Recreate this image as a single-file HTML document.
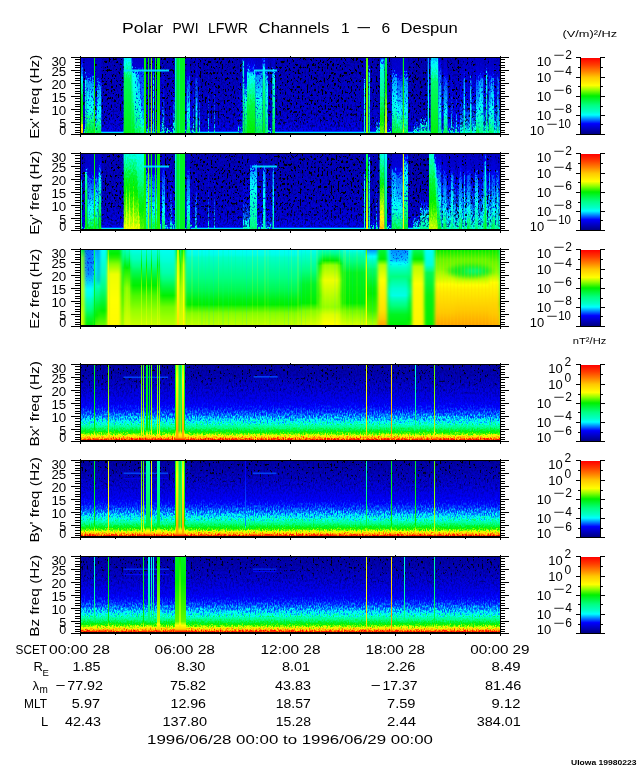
<!DOCTYPE html>
<html><head><meta charset="utf-8"><title>Polar PWI LFWR Channels 1 - 6 Despun</title>
<style>html,body{margin:0;padding:0;background:#fff}svg{display:block}text{font-family:'Liberation Sans', 'DejaVu Sans', sans-serif;fill:#000}</style></head>
<body>
<svg width="640" height="768" viewBox="0 0 640 768">
<rect width="640" height="768" fill="#fff"/>
<defs>

<filter id="nz" x="0" y="0" width="1" height="1" color-interpolation-filters="sRGB">
<feTurbulence type="fractalNoise" baseFrequency="0.83 0.47" numOctaves="2" seed="5" result="t"/>
<feColorMatrix in="t" type="matrix" values="0 0 0 0 0.5  0 2.2 0 0 -0.6  0 0 0 0 0  0 0 0 0 1" result="m"/>
<feDisplacementMap in="SourceGraphic" in2="m" scale="3.2" xChannelSelector="R" yChannelSelector="G"/>
</filter>
<filter id="nz2" x="0" y="0" width="1" height="1" color-interpolation-filters="sRGB">
<feTurbulence type="fractalNoise" baseFrequency="0.83 0.37" numOctaves="2" seed="11" result="t"/>
<feColorMatrix in="t" type="matrix" values="0 0 0 0 0.5  0 2.2 0 0 -0.6  0 0 0 0 0  0 0 0 0 1" result="m"/>
<feDisplacementMap in="SourceGraphic" in2="m" scale="11" xChannelSelector="R" yChannelSelector="G"/>
</filter>
<filter id="sp" x="0" y="0" width="1" height="1" color-interpolation-filters="sRGB">
<feTurbulence type="fractalNoise" baseFrequency="0.55 0.36" numOctaves="1" seed="2" result="t"/>
<feColorMatrix in="t" type="matrix" values="0 0 0 0 0  0 0 0 0 0  0 0 0 0 0  0 0 0 30 -18.3" result="a"/>
<feComposite in="SourceGraphic" in2="a" operator="in"/>
</filter>
<filter id="bl" x="0" y="0" width="1" height="1" color-interpolation-filters="sRGB"><feGaussianBlur stdDeviation="1.8 0"/></filter>
<filter id="sp2" x="0" y="0" width="1" height="1" color-interpolation-filters="sRGB">
<feTurbulence type="fractalNoise" baseFrequency="0.55 0.36" numOctaves="1" seed="9" result="t"/>
<feColorMatrix in="t" type="matrix" values="0 0 0 0 0  0 0 0 0 0  0 0 0 0 0  0 0 0 30 -19.4" result="a"/>
<feComposite in="SourceGraphic" in2="a" operator="in"/>
</filter>
<filter id="dm" x="0" y="0" width="1" height="1" color-interpolation-filters="sRGB">
<feTurbulence type="fractalNoise" baseFrequency="0.61 0.39" numOctaves="2" seed="41" result="t"/>
<feColorMatrix in="t" type="matrix" values="0 0 0 0 0  0 0 0 0 0  0 0 0 0 0  5 0 0 0 -2.3" result="a"/>
<feComposite in="SourceGraphic" in2="a" operator="in"/>
</filter>
<filter id="mt" x="0" y="0" width="1" height="1" color-interpolation-filters="sRGB">
<feTurbulence type="fractalNoise" baseFrequency="0.77 0.45" numOctaves="2" seed="23" result="t"/>
<feColorMatrix in="t" type="matrix" values="0 0 0 0 0  0 0 0 0 0  0 0 0 0 0  0 0 6 0 -3.3" result="a"/>
<feComposite in="SourceGraphic" in2="a" operator="in"/>
</filter>
<linearGradient id="mtg" x1="0" y1="0" x2="0" y2="1"><stop offset="0" stop-color="#0000d8" stop-opacity="0.9"/><stop offset="0.7" stop-color="#0010e0" stop-opacity="0.8"/><stop offset="0.9" stop-color="#0040ff" stop-opacity="0.3"/><stop offset="1" stop-color="#0040ff" stop-opacity="0"/></linearGradient>
<linearGradient id="mtz" x1="0" y1="0" x2="0" y2="1"><stop offset="0" stop-color="#0020e0" stop-opacity="1"/><stop offset="0.6" stop-color="#0040f0" stop-opacity="0.85"/><stop offset="1" stop-color="#0060ff" stop-opacity="0"/></linearGradient>
<filter id="bl2" x="-0.3" y="-0.6" width="1.6" height="2.2" color-interpolation-filters="sRGB"><feGaussianBlur stdDeviation="3.5 2.2"/></filter>
<linearGradient id="dmb" x1="0" y1="0" x2="0" y2="1"><stop offset="0" stop-color="#000080" stop-opacity="0.7"/><stop offset="0.35" stop-color="#000090" stop-opacity="0.6"/><stop offset="0.62" stop-color="#0000a0" stop-opacity="0"/></linearGradient>
<linearGradient id="spg" x1="0" y1="0" x2="0" y2="1"><stop offset="0" stop-color="#000" stop-opacity="1"/><stop offset="0.6" stop-color="#000" stop-opacity="0.95"/><stop offset="0.85" stop-color="#000" stop-opacity="0.7"/><stop offset="0.95" stop-color="#000" stop-opacity="0"/></linearGradient>
<linearGradient id="spb" x1="0" y1="0" x2="0" y2="1"><stop offset="0" stop-color="#000" stop-opacity="1"/><stop offset="0.2" stop-color="#000" stop-opacity="0.7"/><stop offset="0.42" stop-color="#000" stop-opacity="0"/></linearGradient>

<clipPath id="clip0"><rect x="81" y="58" width="419" height="76"/></clipPath>
<linearGradient id="g0" x1="0" y1="0" x2="0" y2="1"><stop offset="0.000" stop-color="#0000be"/><stop offset="0.120" stop-color="#0000be"/><stop offset="0.500" stop-color="#0000cc"/><stop offset="0.728" stop-color="#0000da"/><stop offset="0.827" stop-color="#0000f0"/><stop offset="0.850" stop-color="#0000f0"/><stop offset="0.852" stop-color="#0000ff"/><stop offset="0.859" stop-color="#0082ff"/><stop offset="0.865" stop-color="#00e9ff"/><stop offset="0.866" stop-color="#00ffff"/><stop offset="0.873" stop-color="#00ffc8"/><stop offset="0.880" stop-color="#00ffa3"/><stop offset="1.000" stop-color="#00ffa3"/></linearGradient>
<linearGradient id="g1" x1="0" y1="0" x2="0" y2="1"><stop offset="0.000" stop-color="#0000de"/><stop offset="0.120" stop-color="#0000de"/><stop offset="0.175" stop-color="#0000ff"/><stop offset="0.263" stop-color="#0082ff"/><stop offset="0.272" stop-color="#008fff"/><stop offset="0.329" stop-color="#00ffff"/><stop offset="0.380" stop-color="#00ffc8"/><stop offset="0.386" stop-color="#00ffc4"/><stop offset="0.447" stop-color="#00ff82"/><stop offset="0.500" stop-color="#00f636"/><stop offset="0.633" stop-color="#00f000"/><stop offset="0.766" stop-color="#5ef900"/><stop offset="0.783" stop-color="#96ff00"/><stop offset="0.816" stop-color="#ffff00"/><stop offset="0.827" stop-color="#fff500"/><stop offset="0.865" stop-color="#ffc800"/><stop offset="0.880" stop-color="#ffaa00"/><stop offset="1.000" stop-color="#ffaa00"/></linearGradient>
<linearGradient id="g2" x1="0" y1="0" x2="0" y2="1"><stop offset="0.000" stop-color="#0000c3"/><stop offset="0.120" stop-color="#0000c3"/><stop offset="0.287" stop-color="#0000de"/><stop offset="0.296" stop-color="#0000ff"/><stop offset="0.311" stop-color="#0082ff"/><stop offset="0.325" stop-color="#00ffff"/><stop offset="0.552" stop-color="#00ffc8"/><stop offset="0.728" stop-color="#00ffab"/><stop offset="0.782" stop-color="#00ff82"/><stop offset="0.850" stop-color="#00f73f"/><stop offset="0.865" stop-color="#00f73f"/><stop offset="0.880" stop-color="#00f421"/><stop offset="1.000" stop-color="#00f421"/></linearGradient>
<linearGradient id="g3" x1="0" y1="0" x2="0" y2="1"><stop offset="0.000" stop-color="#0000c3"/><stop offset="0.120" stop-color="#0000c3"/><stop offset="0.287" stop-color="#0000d5"/><stop offset="0.313" stop-color="#0000ff"/><stop offset="0.345" stop-color="#0082ff"/><stop offset="0.348" stop-color="#008fff"/><stop offset="0.500" stop-color="#00deff"/><stop offset="0.565" stop-color="#00ffff"/><stop offset="0.652" stop-color="#00ffe7"/><stop offset="0.674" stop-color="#00ffc8"/><stop offset="0.748" stop-color="#00ff82"/><stop offset="0.766" stop-color="#00fc6c"/><stop offset="0.850" stop-color="#00f52d"/><stop offset="0.865" stop-color="#00f52d"/><stop offset="0.880" stop-color="#00f216"/><stop offset="1.000" stop-color="#00f216"/></linearGradient>
<linearGradient id="g4" x1="0" y1="0" x2="0" y2="1"><stop offset="0.000" stop-color="#00f000"/><stop offset="0.120" stop-color="#00f000"/><stop offset="0.880" stop-color="#26f400"/><stop offset="1.000" stop-color="#26f400"/></linearGradient>
<linearGradient id="g5" x1="0" y1="0" x2="0" y2="1"><stop offset="0.000" stop-color="#0000c3"/><stop offset="0.120" stop-color="#0000c3"/><stop offset="0.348" stop-color="#0000d5"/><stop offset="0.488" stop-color="#0000ff"/><stop offset="0.500" stop-color="#0009ff"/><stop offset="0.654" stop-color="#0082ff"/><stop offset="0.728" stop-color="#00bcff"/><stop offset="0.744" stop-color="#00ffff"/><stop offset="0.769" stop-color="#00ffc8"/><stop offset="0.804" stop-color="#00ff92"/><stop offset="0.821" stop-color="#00ff82"/><stop offset="0.850" stop-color="#00fb5d"/><stop offset="0.865" stop-color="#00fb5d"/><stop offset="0.880" stop-color="#00f636"/><stop offset="1.000" stop-color="#00f636"/></linearGradient>
<linearGradient id="g6" x1="0" y1="0" x2="0" y2="1"><stop offset="0.000" stop-color="#0000c3"/><stop offset="0.120" stop-color="#0000c3"/><stop offset="0.333" stop-color="#0000d5"/><stop offset="0.358" stop-color="#0000ff"/><stop offset="0.390" stop-color="#0082ff"/><stop offset="0.394" stop-color="#008fff"/><stop offset="0.576" stop-color="#00deff"/><stop offset="0.641" stop-color="#00ffff"/><stop offset="0.728" stop-color="#00ffe7"/><stop offset="0.745" stop-color="#00ffc8"/><stop offset="0.804" stop-color="#00ff82"/><stop offset="0.850" stop-color="#00fa55"/><stop offset="0.865" stop-color="#00fa55"/><stop offset="0.880" stop-color="#00f636"/><stop offset="1.000" stop-color="#00f636"/></linearGradient>
<linearGradient id="g7" x1="0" y1="0" x2="0" y2="1"><stop offset="0.000" stop-color="#0000ba"/><stop offset="0.120" stop-color="#0000ba"/><stop offset="0.424" stop-color="#0000d5"/><stop offset="0.728" stop-color="#0000fa"/><stop offset="0.748" stop-color="#0000ff"/><stop offset="0.827" stop-color="#0036ff"/><stop offset="0.850" stop-color="#0036ff"/><stop offset="0.856" stop-color="#0082ff"/><stop offset="0.865" stop-color="#00e9ff"/><stop offset="0.866" stop-color="#00ffff"/><stop offset="0.873" stop-color="#00ffc8"/><stop offset="0.880" stop-color="#00ffa3"/><stop offset="1.000" stop-color="#00ffa3"/></linearGradient>
<linearGradient id="g8" x1="0" y1="0" x2="0" y2="1"><stop offset="0.000" stop-color="#0000c3"/><stop offset="0.120" stop-color="#0000c3"/><stop offset="0.226" stop-color="#0000d5"/><stop offset="0.253" stop-color="#0000ff"/><stop offset="0.272" stop-color="#004cff"/><stop offset="0.576" stop-color="#0079ff"/><stop offset="0.601" stop-color="#0082ff"/><stop offset="0.766" stop-color="#00bcff"/><stop offset="0.800" stop-color="#00ffff"/><stop offset="0.850" stop-color="#00ffca"/><stop offset="0.865" stop-color="#00ffca"/><stop offset="0.865" stop-color="#00ffc8"/><stop offset="0.880" stop-color="#00ffa3"/><stop offset="1.000" stop-color="#00ffa3"/></linearGradient>
<linearGradient id="g9" x1="0" y1="0" x2="0" y2="1"><stop offset="0.000" stop-color="#0000c3"/><stop offset="0.120" stop-color="#0000c3"/><stop offset="0.226" stop-color="#0000d5"/><stop offset="0.243" stop-color="#0000ff"/><stop offset="0.263" stop-color="#0082ff"/><stop offset="0.272" stop-color="#00bcff"/><stop offset="0.576" stop-color="#00e9ff"/><stop offset="0.624" stop-color="#00ffff"/><stop offset="0.766" stop-color="#00ffda"/><stop offset="0.783" stop-color="#00ffc8"/><stop offset="0.850" stop-color="#00ff98"/><stop offset="0.865" stop-color="#00ff98"/><stop offset="0.880" stop-color="#00ff82"/><stop offset="1.000" stop-color="#00ff82"/></linearGradient>
<linearGradient id="g10" x1="0" y1="0" x2="0" y2="1"><stop offset="0.000" stop-color="#0000c3"/><stop offset="0.120" stop-color="#0000c3"/><stop offset="0.226" stop-color="#0000d5"/><stop offset="0.240" stop-color="#0000ff"/><stop offset="0.256" stop-color="#0082ff"/><stop offset="0.272" stop-color="#00ffff"/><stop offset="0.576" stop-color="#00ffda"/><stop offset="0.617" stop-color="#00ffc8"/><stop offset="0.766" stop-color="#00ff9b"/><stop offset="0.804" stop-color="#00ff82"/><stop offset="0.850" stop-color="#00fa5b"/><stop offset="0.865" stop-color="#00fa5b"/><stop offset="0.880" stop-color="#00f841"/><stop offset="1.000" stop-color="#00f841"/></linearGradient>
<linearGradient id="g11" x1="0" y1="0" x2="0" y2="1"><stop offset="0.000" stop-color="#00e9ff"/><stop offset="0.120" stop-color="#00e9ff"/><stop offset="0.135" stop-color="#00ffff"/><stop offset="0.204" stop-color="#00ffc8"/><stop offset="0.211" stop-color="#00ffc4"/><stop offset="0.277" stop-color="#00ff82"/><stop offset="0.310" stop-color="#00fa57"/><stop offset="0.850" stop-color="#00f319"/><stop offset="0.865" stop-color="#00f319"/><stop offset="0.880" stop-color="#00f216"/><stop offset="1.000" stop-color="#00f216"/></linearGradient>
<linearGradient id="g12" x1="0" y1="0" x2="0" y2="1"><stop offset="0.000" stop-color="#0000f0"/><stop offset="0.120" stop-color="#0000f0"/><stop offset="0.135" stop-color="#0000ff"/><stop offset="0.190" stop-color="#0082ff"/><stop offset="0.234" stop-color="#00e9ff"/><stop offset="0.261" stop-color="#00ffff"/><stop offset="0.383" stop-color="#00ffc8"/><stop offset="0.424" stop-color="#00ffbc"/><stop offset="0.542" stop-color="#00ff82"/><stop offset="0.576" stop-color="#00fc6c"/><stop offset="0.850" stop-color="#00f41e"/><stop offset="0.865" stop-color="#00f41e"/><stop offset="0.880" stop-color="#00f216"/><stop offset="1.000" stop-color="#00f216"/></linearGradient>
<linearGradient id="g13" x1="0" y1="0" x2="0" y2="1"><stop offset="0.000" stop-color="#5ef900"/><stop offset="0.120" stop-color="#5ef900"/><stop offset="0.880" stop-color="#96ff00"/><stop offset="1.000" stop-color="#96ff00"/></linearGradient>
<linearGradient id="g14" x1="0" y1="0" x2="0" y2="1"><stop offset="0.000" stop-color="#0000de"/><stop offset="0.120" stop-color="#0000de"/><stop offset="0.188" stop-color="#0000ff"/><stop offset="0.299" stop-color="#0082ff"/><stop offset="0.310" stop-color="#008fff"/><stop offset="0.373" stop-color="#00ffff"/><stop offset="0.386" stop-color="#00fff3"/><stop offset="0.674" stop-color="#00ffc8"/><stop offset="0.850" stop-color="#00ffb6"/><stop offset="0.865" stop-color="#00ffb6"/><stop offset="0.880" stop-color="#00ffa3"/><stop offset="1.000" stop-color="#00ffa3"/></linearGradient>
<linearGradient id="g15" x1="0" y1="0" x2="0" y2="1"><stop offset="0.000" stop-color="#0000ba"/><stop offset="0.120" stop-color="#0000ba"/><stop offset="0.348" stop-color="#0000de"/><stop offset="0.485" stop-color="#0000ff"/><stop offset="0.576" stop-color="#0036ff"/><stop offset="0.684" stop-color="#0082ff"/><stop offset="0.766" stop-color="#00bcff"/><stop offset="0.794" stop-color="#00ffff"/><stop offset="0.837" stop-color="#00ffc8"/><stop offset="0.850" stop-color="#00ffbd"/><stop offset="0.865" stop-color="#00ffbd"/><stop offset="0.880" stop-color="#00ffa3"/><stop offset="1.000" stop-color="#00ffa3"/></linearGradient>
<linearGradient id="g16" x1="0" y1="0" x2="0" y2="1"><stop offset="0.000" stop-color="#00ffc4"/><stop offset="0.120" stop-color="#00ffc4"/><stop offset="0.728" stop-color="#00ff82"/><stop offset="0.880" stop-color="#00fc6c"/><stop offset="1.000" stop-color="#00fc6c"/></linearGradient>
<linearGradient id="g17" x1="0" y1="0" x2="0" y2="1"><stop offset="0.000" stop-color="#00f421"/><stop offset="0.120" stop-color="#00f421"/><stop offset="0.880" stop-color="#00f421"/><stop offset="1.000" stop-color="#00f421"/></linearGradient>
<linearGradient id="g18" x1="0" y1="0" x2="0" y2="1"><stop offset="0.000" stop-color="#00fa57"/><stop offset="0.120" stop-color="#00fa57"/><stop offset="0.880" stop-color="#00fa57"/><stop offset="1.000" stop-color="#00fa57"/></linearGradient>
<linearGradient id="g19" x1="0" y1="0" x2="0" y2="1"><stop offset="0.000" stop-color="#0000c3"/><stop offset="0.120" stop-color="#0000c3"/><stop offset="0.272" stop-color="#0000de"/><stop offset="0.311" stop-color="#0000ff"/><stop offset="0.348" stop-color="#004cff"/><stop offset="0.462" stop-color="#0082ff"/><stop offset="0.538" stop-color="#00a6ff"/><stop offset="0.660" stop-color="#00ffff"/><stop offset="0.690" stop-color="#00fff3"/><stop offset="0.725" stop-color="#00ffc8"/><stop offset="0.789" stop-color="#00ff92"/><stop offset="0.809" stop-color="#00ff82"/><stop offset="0.850" stop-color="#00fa57"/><stop offset="0.865" stop-color="#00fa57"/><stop offset="0.880" stop-color="#00f636"/><stop offset="1.000" stop-color="#00f636"/></linearGradient>
<linearGradient id="g20" x1="0" y1="0" x2="0" y2="1"><stop offset="0.000" stop-color="#0000de"/><stop offset="0.120" stop-color="#0000de"/><stop offset="0.130" stop-color="#0000ff"/><stop offset="0.145" stop-color="#0082ff"/><stop offset="0.160" stop-color="#00ffff"/><stop offset="0.166" stop-color="#00ffe7"/><stop offset="0.305" stop-color="#00ffc8"/><stop offset="0.500" stop-color="#00ffab"/><stop offset="0.658" stop-color="#00ff82"/><stop offset="0.850" stop-color="#00f741"/><stop offset="0.865" stop-color="#00f741"/><stop offset="0.880" stop-color="#00f636"/><stop offset="1.000" stop-color="#00f636"/></linearGradient>
<linearGradient id="g21" x1="0" y1="0" x2="0" y2="1"><stop offset="0.000" stop-color="#0000c3"/><stop offset="0.120" stop-color="#0000c3"/><stop offset="0.348" stop-color="#0000f0"/><stop offset="0.367" stop-color="#0000ff"/><stop offset="0.435" stop-color="#0082ff"/><stop offset="0.500" stop-color="#00ffff"/><stop offset="0.562" stop-color="#00ffc8"/><stop offset="0.652" stop-color="#00ff92"/><stop offset="0.698" stop-color="#00ff82"/><stop offset="0.850" stop-color="#00f73a"/><stop offset="0.865" stop-color="#00f73a"/><stop offset="0.880" stop-color="#00f52b"/><stop offset="1.000" stop-color="#00f52b"/></linearGradient>
<linearGradient id="g22" x1="0" y1="0" x2="0" y2="1"><stop offset="0.000" stop-color="#0000cc"/><stop offset="0.120" stop-color="#0000cc"/><stop offset="0.211" stop-color="#0000f0"/><stop offset="0.221" stop-color="#0000ff"/><stop offset="0.258" stop-color="#0082ff"/><stop offset="0.287" stop-color="#00e9ff"/><stop offset="0.302" stop-color="#00ffff"/><stop offset="0.371" stop-color="#00ffc8"/><stop offset="0.424" stop-color="#00ffab"/><stop offset="0.493" stop-color="#00ff82"/><stop offset="0.576" stop-color="#00f841"/><stop offset="0.850" stop-color="#00f106"/><stop offset="0.865" stop-color="#00f106"/><stop offset="0.880" stop-color="#00f000"/><stop offset="1.000" stop-color="#00f000"/></linearGradient>
<linearGradient id="g23" x1="0" y1="0" x2="0" y2="1"><stop offset="0.000" stop-color="#0000c3"/><stop offset="0.120" stop-color="#0000c3"/><stop offset="0.249" stop-color="#0000d5"/><stop offset="0.265" stop-color="#0000ff"/><stop offset="0.285" stop-color="#0082ff"/><stop offset="0.287" stop-color="#008fff"/><stop offset="0.500" stop-color="#00e9ff"/><stop offset="0.519" stop-color="#00ffff"/><stop offset="0.604" stop-color="#00ffc8"/><stop offset="0.652" stop-color="#00ffb3"/><stop offset="0.766" stop-color="#00ff82"/><stop offset="0.850" stop-color="#00fa52"/><stop offset="0.865" stop-color="#00fa52"/><stop offset="0.880" stop-color="#00f841"/><stop offset="1.000" stop-color="#00f841"/></linearGradient>
<linearGradient id="g24" x1="0" y1="0" x2="0" y2="1"><stop offset="0.000" stop-color="#0000f0"/><stop offset="0.120" stop-color="#0000f0"/><stop offset="0.134" stop-color="#0000ff"/><stop offset="0.185" stop-color="#0082ff"/><stop offset="0.234" stop-color="#00ffff"/><stop offset="0.300" stop-color="#00ffc8"/><stop offset="0.424" stop-color="#00ff82"/><stop offset="0.850" stop-color="#00f31d"/><stop offset="0.865" stop-color="#00f31d"/><stop offset="0.880" stop-color="#00f216"/><stop offset="1.000" stop-color="#00f216"/></linearGradient>
<linearGradient id="g25" x1="0" y1="0" x2="0" y2="1"><stop offset="0.000" stop-color="#0000c3"/><stop offset="0.120" stop-color="#0000c3"/><stop offset="0.257" stop-color="#0000de"/><stop offset="0.273" stop-color="#0000ff"/><stop offset="0.298" stop-color="#0082ff"/><stop offset="0.310" stop-color="#00bcff"/><stop offset="0.438" stop-color="#00ffff"/><stop offset="0.631" stop-color="#00ffc8"/><stop offset="0.652" stop-color="#00ffc4"/><stop offset="0.834" stop-color="#00ff82"/><stop offset="0.850" stop-color="#00fe7b"/><stop offset="0.865" stop-color="#00fe7b"/><stop offset="0.880" stop-color="#00fc6c"/><stop offset="1.000" stop-color="#00fc6c"/></linearGradient>
<linearGradient id="g26" x1="0" y1="0" x2="0" y2="1"><stop offset="0.000" stop-color="#0000c3"/><stop offset="0.120" stop-color="#0000c3"/><stop offset="0.242" stop-color="#0000d5"/><stop offset="0.250" stop-color="#0000ff"/><stop offset="0.261" stop-color="#0082ff"/><stop offset="0.272" stop-color="#00ffff"/><stop offset="0.424" stop-color="#00ffc8"/><stop offset="0.576" stop-color="#00ffa3"/><stop offset="0.677" stop-color="#00ff82"/><stop offset="0.850" stop-color="#00f638"/><stop offset="0.865" stop-color="#00f638"/><stop offset="0.880" stop-color="#00f52b"/><stop offset="1.000" stop-color="#00f52b"/></linearGradient>
<linearGradient id="g27" x1="0" y1="0" x2="0" y2="1"><stop offset="0.000" stop-color="#0000c3"/><stop offset="0.120" stop-color="#0000c3"/><stop offset="0.333" stop-color="#0000de"/><stop offset="0.340" stop-color="#0000ff"/><stop offset="0.352" stop-color="#0082ff"/><stop offset="0.363" stop-color="#00ffff"/><stop offset="0.654" stop-color="#00ffc8"/><stop offset="0.850" stop-color="#00ffaf"/><stop offset="0.865" stop-color="#00ffaf"/><stop offset="0.880" stop-color="#00ffa3"/><stop offset="1.000" stop-color="#00ffa3"/></linearGradient>
<linearGradient id="g28" x1="0" y1="0" x2="0" y2="1"><stop offset="0.000" stop-color="#0000c3"/><stop offset="0.120" stop-color="#0000c3"/><stop offset="0.219" stop-color="#0000de"/><stop offset="0.225" stop-color="#0000ff"/><stop offset="0.236" stop-color="#0082ff"/><stop offset="0.246" stop-color="#00ffff"/><stop offset="0.249" stop-color="#00ffe7"/><stop offset="0.371" stop-color="#00ffc8"/><stop offset="0.783" stop-color="#00ff82"/><stop offset="0.850" stop-color="#00fd73"/><stop offset="0.865" stop-color="#00fd73"/><stop offset="0.880" stop-color="#00fc6c"/><stop offset="1.000" stop-color="#00fc6c"/></linearGradient>
<linearGradient id="g29" x1="0" y1="0" x2="0" y2="1"><stop offset="0.000" stop-color="#0000b5"/><stop offset="0.120" stop-color="#0000b5"/><stop offset="0.500" stop-color="#0000c3"/><stop offset="0.728" stop-color="#0000d5"/><stop offset="0.753" stop-color="#0000ff"/><stop offset="0.785" stop-color="#0082ff"/><stop offset="0.789" stop-color="#008fff"/><stop offset="0.821" stop-color="#00ffff"/><stop offset="0.850" stop-color="#00ffca"/><stop offset="0.865" stop-color="#00ffca"/><stop offset="0.865" stop-color="#00ffc8"/><stop offset="0.880" stop-color="#00ffa3"/><stop offset="1.000" stop-color="#00ffa3"/></linearGradient>
<linearGradient id="g30" x1="0" y1="0" x2="0" y2="1"><stop offset="0.000" stop-color="#001fff"/><stop offset="0.120" stop-color="#001fff"/><stop offset="0.153" stop-color="#0082ff"/><stop offset="0.196" stop-color="#00ffff"/><stop offset="0.211" stop-color="#00ffe7"/><stop offset="0.277" stop-color="#00ffc8"/><stop offset="0.500" stop-color="#00ff82"/><stop offset="0.690" stop-color="#00f216"/><stop offset="0.737" stop-color="#00f000"/><stop offset="0.850" stop-color="#59f900"/><stop offset="0.865" stop-color="#59f900"/><stop offset="0.880" stop-color="#71fb00"/><stop offset="1.000" stop-color="#71fb00"/></linearGradient>
<linearGradient id="g31" x1="0" y1="0" x2="0" y2="1"><stop offset="0.000" stop-color="#00fa57"/><stop offset="0.120" stop-color="#00fa57"/><stop offset="0.424" stop-color="#00f000"/><stop offset="0.652" stop-color="#96ff00"/><stop offset="0.880" stop-color="#eeff00"/><stop offset="1.000" stop-color="#eeff00"/></linearGradient>
<linearGradient id="g32" x1="0" y1="0" x2="0" y2="1"><stop offset="0.000" stop-color="#0000c3"/><stop offset="0.120" stop-color="#0000c3"/><stop offset="0.257" stop-color="#0000d5"/><stop offset="0.276" stop-color="#0000ff"/><stop offset="0.300" stop-color="#0082ff"/><stop offset="0.302" stop-color="#008fff"/><stop offset="0.500" stop-color="#00e9ff"/><stop offset="0.538" stop-color="#00ffff"/><stop offset="0.652" stop-color="#00ffda"/><stop offset="0.668" stop-color="#00ffc8"/><stop offset="0.728" stop-color="#00ff9b"/><stop offset="0.761" stop-color="#00ff82"/><stop offset="0.804" stop-color="#00fa57"/><stop offset="0.850" stop-color="#00f630"/><stop offset="0.865" stop-color="#00f630"/><stop offset="0.880" stop-color="#00f216"/><stop offset="1.000" stop-color="#00f216"/></linearGradient>
<linearGradient id="g33" x1="0" y1="0" x2="0" y2="1"><stop offset="0.000" stop-color="#0000c3"/><stop offset="0.120" stop-color="#0000c3"/><stop offset="0.272" stop-color="#0000d5"/><stop offset="0.316" stop-color="#0000ff"/><stop offset="0.348" stop-color="#004cff"/><stop offset="0.439" stop-color="#0082ff"/><stop offset="0.500" stop-color="#00a6ff"/><stop offset="0.652" stop-color="#00ffff"/><stop offset="0.709" stop-color="#00ffc8"/><stop offset="0.728" stop-color="#00ffbc"/><stop offset="0.787" stop-color="#00ff82"/><stop offset="0.804" stop-color="#00fc6c"/><stop offset="0.850" stop-color="#00f73f"/><stop offset="0.865" stop-color="#00f73f"/><stop offset="0.880" stop-color="#00f421"/><stop offset="1.000" stop-color="#00f421"/></linearGradient>
<linearGradient id="g34" x1="0" y1="0" x2="0" y2="1"><stop offset="0.000" stop-color="#00f216"/><stop offset="0.120" stop-color="#00f216"/><stop offset="0.424" stop-color="#00f000"/><stop offset="0.728" stop-color="#26f400"/><stop offset="0.819" stop-color="#96ff00"/><stop offset="0.880" stop-color="#dcff00"/><stop offset="1.000" stop-color="#dcff00"/></linearGradient>
<linearGradient id="g35" x1="0" y1="0" x2="0" y2="1"><stop offset="0.000" stop-color="#0000c3"/><stop offset="0.120" stop-color="#0000c3"/><stop offset="0.257" stop-color="#0000d5"/><stop offset="0.276" stop-color="#0000ff"/><stop offset="0.300" stop-color="#0082ff"/><stop offset="0.302" stop-color="#008fff"/><stop offset="0.652" stop-color="#00ffff"/><stop offset="0.708" stop-color="#00ffc8"/><stop offset="0.789" stop-color="#00ff92"/><stop offset="0.809" stop-color="#00ff82"/><stop offset="0.850" stop-color="#00fa57"/><stop offset="0.865" stop-color="#00fa57"/><stop offset="0.880" stop-color="#00f636"/><stop offset="1.000" stop-color="#00f636"/></linearGradient>
<linearGradient id="g36" x1="0" y1="0" x2="0" y2="1"><stop offset="0.000" stop-color="#0000b5"/><stop offset="0.120" stop-color="#0000b5"/><stop offset="0.500" stop-color="#0000c3"/><stop offset="0.766" stop-color="#0000d5"/><stop offset="0.791" stop-color="#0000ff"/><stop offset="0.823" stop-color="#0082ff"/><stop offset="0.827" stop-color="#008fff"/><stop offset="0.846" stop-color="#00ffff"/><stop offset="0.850" stop-color="#00fff3"/><stop offset="0.865" stop-color="#00fff3"/><stop offset="0.871" stop-color="#00ffc8"/><stop offset="0.880" stop-color="#00ffa3"/><stop offset="1.000" stop-color="#00ffa3"/></linearGradient>
<linearGradient id="g37" x1="0" y1="0" x2="0" y2="1"><stop offset="0.000" stop-color="#0000b5"/><stop offset="0.120" stop-color="#0000b5"/><stop offset="0.500" stop-color="#0000c3"/><stop offset="0.728" stop-color="#0000d5"/><stop offset="0.748" stop-color="#0000ff"/><stop offset="0.772" stop-color="#0082ff"/><stop offset="0.796" stop-color="#00ffff"/><stop offset="0.831" stop-color="#00ffc8"/><stop offset="0.850" stop-color="#00ffb3"/><stop offset="0.865" stop-color="#00ffb3"/><stop offset="0.880" stop-color="#00ff92"/><stop offset="1.000" stop-color="#00ff92"/></linearGradient>
<linearGradient id="g38" x1="0" y1="0" x2="0" y2="1"><stop offset="0.000" stop-color="#008fff"/><stop offset="0.120" stop-color="#008fff"/><stop offset="0.500" stop-color="#00ffff"/><stop offset="0.842" stop-color="#00ffc8"/><stop offset="0.850" stop-color="#00ffc7"/><stop offset="0.865" stop-color="#00ffc7"/><stop offset="0.880" stop-color="#00ffa3"/><stop offset="1.000" stop-color="#00ffa3"/></linearGradient>
<linearGradient id="g39" x1="0" y1="0" x2="0" y2="1"><stop offset="0.000" stop-color="#00bcff"/><stop offset="0.120" stop-color="#00bcff"/><stop offset="0.177" stop-color="#00ffff"/><stop offset="0.234" stop-color="#00ffda"/><stop offset="0.248" stop-color="#00ffc8"/><stop offset="0.329" stop-color="#00ff82"/><stop offset="0.348" stop-color="#00fc6c"/><stop offset="0.850" stop-color="#00f210"/><stop offset="0.865" stop-color="#00f210"/><stop offset="0.880" stop-color="#00f10b"/><stop offset="1.000" stop-color="#00f10b"/></linearGradient>
<linearGradient id="g40" x1="0" y1="0" x2="0" y2="1"><stop offset="0.000" stop-color="#0000c3"/><stop offset="0.120" stop-color="#0000c3"/><stop offset="0.192" stop-color="#0000ff"/><stop offset="0.196" stop-color="#0009ff"/><stop offset="0.333" stop-color="#0082ff"/><stop offset="0.348" stop-color="#008fff"/><stop offset="0.652" stop-color="#00ffff"/><stop offset="0.720" stop-color="#00ffc8"/><stop offset="0.850" stop-color="#00ff82"/><stop offset="0.865" stop-color="#00ff82"/><stop offset="0.880" stop-color="#00fc6c"/><stop offset="1.000" stop-color="#00fc6c"/></linearGradient>
<linearGradient id="g41" x1="0" y1="0" x2="0" y2="1"><stop offset="0.000" stop-color="#0000be"/><stop offset="0.120" stop-color="#0000be"/><stop offset="0.348" stop-color="#0000de"/><stop offset="0.512" stop-color="#0000ff"/><stop offset="0.576" stop-color="#001fff"/><stop offset="0.743" stop-color="#0082ff"/><stop offset="0.766" stop-color="#008fff"/><stop offset="0.823" stop-color="#00ffff"/><stop offset="0.850" stop-color="#00ffe2"/><stop offset="0.865" stop-color="#00ffe2"/><stop offset="0.870" stop-color="#00ffc8"/><stop offset="0.880" stop-color="#00ffa3"/><stop offset="1.000" stop-color="#00ffa3"/></linearGradient>
<linearGradient id="g42" x1="0" y1="0" x2="0" y2="1"><stop offset="0.000" stop-color="#0000ba"/><stop offset="0.120" stop-color="#0000ba"/><stop offset="0.272" stop-color="#0000d5"/><stop offset="0.304" stop-color="#0000ff"/><stop offset="0.344" stop-color="#0082ff"/><stop offset="0.348" stop-color="#008fff"/><stop offset="0.576" stop-color="#00ffff"/><stop offset="0.747" stop-color="#00ffc8"/><stop offset="0.766" stop-color="#00ffc4"/><stop offset="0.850" stop-color="#00ff87"/><stop offset="0.865" stop-color="#00ff87"/><stop offset="0.869" stop-color="#00ff82"/><stop offset="0.880" stop-color="#00fc6c"/><stop offset="1.000" stop-color="#00fc6c"/></linearGradient>
<linearGradient id="g43" x1="0" y1="0" x2="0" y2="1"><stop offset="0.000" stop-color="#0000ba"/><stop offset="0.120" stop-color="#0000ba"/><stop offset="0.249" stop-color="#0000de"/><stop offset="0.258" stop-color="#0000ff"/><stop offset="0.273" stop-color="#0082ff"/><stop offset="0.287" stop-color="#00ffff"/><stop offset="0.465" stop-color="#00ffc8"/><stop offset="0.801" stop-color="#00ff82"/><stop offset="0.850" stop-color="#00fd75"/><stop offset="0.865" stop-color="#00fd75"/><stop offset="0.880" stop-color="#00fc6c"/><stop offset="1.000" stop-color="#00fc6c"/></linearGradient>
<clipPath id="clip1"><rect x="81" y="154" width="419" height="76"/></clipPath>
<linearGradient id="g44" x1="0" y1="0" x2="0" y2="1"><stop offset="0.000" stop-color="#0000c3"/><stop offset="0.120" stop-color="#0000c3"/><stop offset="0.348" stop-color="#0000f0"/><stop offset="0.356" stop-color="#0000ff"/><stop offset="0.385" stop-color="#0082ff"/><stop offset="0.414" stop-color="#00ffff"/><stop offset="0.424" stop-color="#00ffe7"/><stop offset="0.500" stop-color="#00ffc8"/><stop offset="0.758" stop-color="#00ff82"/><stop offset="0.850" stop-color="#00fb62"/><stop offset="0.865" stop-color="#00fb62"/><stop offset="0.880" stop-color="#00fa57"/><stop offset="1.000" stop-color="#00fa57"/></linearGradient>
<linearGradient id="g45" x1="0" y1="0" x2="0" y2="1"><stop offset="0.000" stop-color="#0000ba"/><stop offset="0.120" stop-color="#0000ba"/><stop offset="0.272" stop-color="#0000de"/><stop offset="0.283" stop-color="#0000ff"/><stop offset="0.301" stop-color="#0082ff"/><stop offset="0.318" stop-color="#00ffff"/><stop offset="0.331" stop-color="#00ffc8"/><stop offset="0.333" stop-color="#00ffc4"/><stop offset="0.444" stop-color="#00ff82"/><stop offset="0.500" stop-color="#00fa57"/><stop offset="0.850" stop-color="#00f107"/><stop offset="0.865" stop-color="#00f107"/><stop offset="0.880" stop-color="#00f000"/><stop offset="1.000" stop-color="#00f000"/></linearGradient>
<linearGradient id="g46" x1="0" y1="0" x2="0" y2="1"><stop offset="0.000" stop-color="#0000c3"/><stop offset="0.120" stop-color="#0000c3"/><stop offset="0.310" stop-color="#0000d5"/><stop offset="0.354" stop-color="#0000ff"/><stop offset="0.386" stop-color="#004cff"/><stop offset="0.477" stop-color="#0082ff"/><stop offset="0.576" stop-color="#00bcff"/><stop offset="0.652" stop-color="#00ffff"/><stop offset="0.728" stop-color="#00ffda"/><stop offset="0.738" stop-color="#00ffc8"/><stop offset="0.791" stop-color="#00ff82"/><stop offset="0.804" stop-color="#00fc6c"/><stop offset="0.850" stop-color="#00f638"/><stop offset="0.865" stop-color="#00f638"/><stop offset="0.880" stop-color="#00f216"/><stop offset="1.000" stop-color="#00f216"/></linearGradient>
<linearGradient id="g47" x1="0" y1="0" x2="0" y2="1"><stop offset="0.000" stop-color="#0000c3"/><stop offset="0.120" stop-color="#0000c3"/><stop offset="0.310" stop-color="#0000de"/><stop offset="0.351" stop-color="#0000ff"/><stop offset="0.417" stop-color="#0082ff"/><stop offset="0.424" stop-color="#008fff"/><stop offset="0.614" stop-color="#00ffff"/><stop offset="0.652" stop-color="#00fff3"/><stop offset="0.685" stop-color="#00ffc8"/><stop offset="0.766" stop-color="#00ff82"/><stop offset="0.850" stop-color="#00f73b"/><stop offset="0.865" stop-color="#00f73b"/><stop offset="0.880" stop-color="#00f421"/><stop offset="1.000" stop-color="#00f421"/></linearGradient>
<linearGradient id="g48" x1="0" y1="0" x2="0" y2="1"><stop offset="0.000" stop-color="#0000c3"/><stop offset="0.120" stop-color="#0000c3"/><stop offset="0.234" stop-color="#0000f0"/><stop offset="0.248" stop-color="#0000ff"/><stop offset="0.299" stop-color="#0082ff"/><stop offset="0.348" stop-color="#00ffff"/><stop offset="0.455" stop-color="#00ffc8"/><stop offset="0.538" stop-color="#00ffab"/><stop offset="0.617" stop-color="#00ff82"/><stop offset="0.728" stop-color="#00f636"/><stop offset="0.837" stop-color="#00f000"/><stop offset="0.850" stop-color="#0bf100"/><stop offset="0.865" stop-color="#0bf100"/><stop offset="0.880" stop-color="#26f400"/><stop offset="1.000" stop-color="#26f400"/></linearGradient>
<linearGradient id="g49" x1="0" y1="0" x2="0" y2="1"><stop offset="0.000" stop-color="#00ffe7"/><stop offset="0.120" stop-color="#00ffe7"/><stop offset="0.145" stop-color="#00ffc8"/><stop offset="0.181" stop-color="#00ffab"/><stop offset="0.245" stop-color="#00ff82"/><stop offset="0.348" stop-color="#00f52b"/><stop offset="0.500" stop-color="#00f000"/><stop offset="0.652" stop-color="#4bf800"/><stop offset="0.753" stop-color="#96ff00"/><stop offset="0.850" stop-color="#d8ff00"/><stop offset="0.865" stop-color="#d8ff00"/><stop offset="0.880" stop-color="#eeff00"/><stop offset="1.000" stop-color="#eeff00"/></linearGradient>
<linearGradient id="g50" x1="0" y1="0" x2="0" y2="1"><stop offset="0.000" stop-color="#00ffe7"/><stop offset="0.120" stop-color="#00ffe7"/><stop offset="0.146" stop-color="#00ffc8"/><stop offset="0.236" stop-color="#00ff82"/><stop offset="0.310" stop-color="#00f636"/><stop offset="0.412" stop-color="#00f000"/><stop offset="0.576" stop-color="#96ff00"/><stop offset="0.804" stop-color="#ffff00"/><stop offset="0.850" stop-color="#fff900"/><stop offset="0.865" stop-color="#fff900"/><stop offset="0.880" stop-color="#fff500"/><stop offset="1.000" stop-color="#fff500"/></linearGradient>
<linearGradient id="g51" x1="0" y1="0" x2="0" y2="1"><stop offset="0.000" stop-color="#00fff3"/><stop offset="0.120" stop-color="#00fff3"/><stop offset="0.196" stop-color="#00ffda"/><stop offset="0.224" stop-color="#00ffc8"/><stop offset="0.348" stop-color="#00ff92"/><stop offset="0.389" stop-color="#00ff82"/><stop offset="0.576" stop-color="#00f421"/><stop offset="0.690" stop-color="#00f000"/><stop offset="0.850" stop-color="#4ff800"/><stop offset="0.865" stop-color="#4ff800"/><stop offset="0.880" stop-color="#5ef900"/><stop offset="1.000" stop-color="#5ef900"/></linearGradient>
<linearGradient id="g52" x1="0" y1="0" x2="0" y2="1"><stop offset="0.000" stop-color="#0000ba"/><stop offset="0.120" stop-color="#0000ba"/><stop offset="0.348" stop-color="#0000cc"/><stop offset="0.576" stop-color="#0000fa"/><stop offset="0.592" stop-color="#0000ff"/><stop offset="0.750" stop-color="#0082ff"/><stop offset="0.766" stop-color="#008fff"/><stop offset="0.813" stop-color="#00ffff"/><stop offset="0.850" stop-color="#00ffd1"/><stop offset="0.865" stop-color="#00ffd1"/><stop offset="0.867" stop-color="#00ffc8"/><stop offset="0.880" stop-color="#00ffa3"/><stop offset="1.000" stop-color="#00ffa3"/></linearGradient>
<linearGradient id="g53" x1="0" y1="0" x2="0" y2="1"><stop offset="0.000" stop-color="#0000b5"/><stop offset="0.120" stop-color="#0000b5"/><stop offset="0.234" stop-color="#0000c3"/><stop offset="0.249" stop-color="#0000ff"/><stop offset="0.263" stop-color="#0082ff"/><stop offset="0.264" stop-color="#008fff"/><stop offset="0.433" stop-color="#00ffff"/><stop offset="0.500" stop-color="#00ffe7"/><stop offset="0.614" stop-color="#00ffc8"/><stop offset="0.728" stop-color="#00ffb3"/><stop offset="0.842" stop-color="#00ff82"/><stop offset="0.850" stop-color="#00fe7e"/><stop offset="0.865" stop-color="#00fe7e"/><stop offset="0.880" stop-color="#00fc6c"/><stop offset="1.000" stop-color="#00fc6c"/></linearGradient>
<linearGradient id="g54" x1="0" y1="0" x2="0" y2="1"><stop offset="0.000" stop-color="#0000b5"/><stop offset="0.120" stop-color="#0000b5"/><stop offset="0.249" stop-color="#0000c3"/><stop offset="0.265" stop-color="#0000ff"/><stop offset="0.278" stop-color="#0082ff"/><stop offset="0.280" stop-color="#008fff"/><stop offset="0.530" stop-color="#00ffff"/><stop offset="0.755" stop-color="#00ffc8"/><stop offset="0.850" stop-color="#00ffb8"/><stop offset="0.865" stop-color="#00ffb8"/><stop offset="0.880" stop-color="#00ffa3"/><stop offset="1.000" stop-color="#00ffa3"/></linearGradient>
<linearGradient id="g55" x1="0" y1="0" x2="0" y2="1"><stop offset="0.000" stop-color="#00fa57"/><stop offset="0.120" stop-color="#00fa57"/><stop offset="0.307" stop-color="#00f000"/><stop offset="0.424" stop-color="#5ef900"/><stop offset="0.576" stop-color="#96ff00"/><stop offset="0.880" stop-color="#ffff00"/><stop offset="1.000" stop-color="#ffff00"/></linearGradient>
<linearGradient id="g56" x1="0" y1="0" x2="0" y2="1"><stop offset="0.000" stop-color="#0000c3"/><stop offset="0.120" stop-color="#0000c3"/><stop offset="0.142" stop-color="#0000ff"/><stop offset="0.162" stop-color="#0082ff"/><stop offset="0.181" stop-color="#00ffff"/><stop offset="0.467" stop-color="#00ffc8"/><stop offset="0.850" stop-color="#00ff96"/><stop offset="0.865" stop-color="#00ff96"/><stop offset="0.880" stop-color="#00ff92"/><stop offset="1.000" stop-color="#00ff92"/></linearGradient>
<linearGradient id="g57" x1="0" y1="0" x2="0" y2="1"><stop offset="0.000" stop-color="#00ffe7"/><stop offset="0.120" stop-color="#00ffe7"/><stop offset="0.149" stop-color="#00ffc8"/><stop offset="0.249" stop-color="#00ff82"/><stop offset="0.272" stop-color="#00fc6c"/><stop offset="0.435" stop-color="#00f000"/><stop offset="0.500" stop-color="#4bf800"/><stop offset="0.601" stop-color="#96ff00"/><stop offset="0.728" stop-color="#eeff00"/><stop offset="0.740" stop-color="#ffff00"/><stop offset="0.864" stop-color="#ffc800"/><stop offset="0.880" stop-color="#ffbc00"/><stop offset="1.000" stop-color="#ffbc00"/></linearGradient>
<linearGradient id="g58" x1="0" y1="0" x2="0" y2="1"><stop offset="0.000" stop-color="#00ffff"/><stop offset="0.120" stop-color="#00ffff"/><stop offset="0.291" stop-color="#00ffc8"/><stop offset="0.424" stop-color="#00ffab"/><stop offset="0.614" stop-color="#00ff82"/><stop offset="0.850" stop-color="#00f73f"/><stop offset="0.865" stop-color="#00f73f"/><stop offset="0.880" stop-color="#00f636"/><stop offset="1.000" stop-color="#00f636"/></linearGradient>
<linearGradient id="g59" x1="0" y1="0" x2="0" y2="1"><stop offset="0.000" stop-color="#0000c3"/><stop offset="0.120" stop-color="#0000c3"/><stop offset="0.257" stop-color="#0000de"/><stop offset="0.276" stop-color="#0000ff"/><stop offset="0.307" stop-color="#0082ff"/><stop offset="0.310" stop-color="#008fff"/><stop offset="0.595" stop-color="#00ffff"/><stop offset="0.652" stop-color="#00fff3"/><stop offset="0.696" stop-color="#00ffc8"/><stop offset="0.804" stop-color="#00ff82"/><stop offset="0.850" stop-color="#00f94e"/><stop offset="0.865" stop-color="#00f94e"/><stop offset="0.880" stop-color="#00f52b"/><stop offset="1.000" stop-color="#00f52b"/></linearGradient>
<linearGradient id="g60" x1="0" y1="0" x2="0" y2="1"><stop offset="0.000" stop-color="#0000c3"/><stop offset="0.120" stop-color="#0000c3"/><stop offset="0.272" stop-color="#0000de"/><stop offset="0.299" stop-color="#0000ff"/><stop offset="0.333" stop-color="#0063ff"/><stop offset="0.408" stop-color="#0082ff"/><stop offset="0.576" stop-color="#00c7ff"/><stop offset="0.627" stop-color="#00ffff"/><stop offset="0.718" stop-color="#00ffc8"/><stop offset="0.728" stop-color="#00ffc4"/><stop offset="0.809" stop-color="#00ff82"/><stop offset="0.850" stop-color="#00fa57"/><stop offset="0.865" stop-color="#00fa57"/><stop offset="0.880" stop-color="#00f636"/><stop offset="1.000" stop-color="#00f636"/></linearGradient>
<linearGradient id="g61" x1="0" y1="0" x2="0" y2="1"><stop offset="0.000" stop-color="#dcff00"/><stop offset="0.120" stop-color="#dcff00"/><stop offset="0.627" stop-color="#ffff00"/><stop offset="0.880" stop-color="#fffa00"/><stop offset="1.000" stop-color="#fffa00"/></linearGradient>
<linearGradient id="g62" x1="0" y1="0" x2="0" y2="1"><stop offset="0.000" stop-color="#0000de"/><stop offset="0.120" stop-color="#0000de"/><stop offset="0.154" stop-color="#0000ff"/><stop offset="0.209" stop-color="#0082ff"/><stop offset="0.234" stop-color="#00bcff"/><stop offset="0.334" stop-color="#00ffff"/><stop offset="0.483" stop-color="#00ffc8"/><stop offset="0.500" stop-color="#00ffc4"/><stop offset="0.682" stop-color="#00ff82"/><stop offset="0.728" stop-color="#00fc6c"/><stop offset="0.850" stop-color="#00f427"/><stop offset="0.865" stop-color="#00f427"/><stop offset="0.880" stop-color="#00f216"/><stop offset="1.000" stop-color="#00f216"/></linearGradient>
<linearGradient id="g63" x1="0" y1="0" x2="0" y2="1"><stop offset="0.000" stop-color="#0000b5"/><stop offset="0.120" stop-color="#0000b5"/><stop offset="0.500" stop-color="#0000c3"/><stop offset="0.728" stop-color="#0000d5"/><stop offset="0.760" stop-color="#0000ff"/><stop offset="0.800" stop-color="#0082ff"/><stop offset="0.804" stop-color="#008fff"/><stop offset="0.831" stop-color="#00ffff"/><stop offset="0.850" stop-color="#00ffd5"/><stop offset="0.865" stop-color="#00ffd5"/><stop offset="0.868" stop-color="#00ffc8"/><stop offset="0.880" stop-color="#00ffa3"/><stop offset="1.000" stop-color="#00ffa3"/></linearGradient>
<linearGradient id="g64" x1="0" y1="0" x2="0" y2="1"><stop offset="0.000" stop-color="#0000b5"/><stop offset="0.120" stop-color="#0000b5"/><stop offset="0.424" stop-color="#0000c3"/><stop offset="0.591" stop-color="#0000d5"/><stop offset="0.628" stop-color="#0000ff"/><stop offset="0.676" stop-color="#0082ff"/><stop offset="0.713" stop-color="#00e9ff"/><stop offset="0.727" stop-color="#00ffff"/><stop offset="0.789" stop-color="#00ffc8"/><stop offset="0.850" stop-color="#00ffa4"/><stop offset="0.865" stop-color="#00ffa4"/><stop offset="0.880" stop-color="#00ff92"/><stop offset="1.000" stop-color="#00ff92"/></linearGradient>
<linearGradient id="g65" x1="0" y1="0" x2="0" y2="1"><stop offset="0.000" stop-color="#0000c3"/><stop offset="0.120" stop-color="#0000c3"/><stop offset="0.196" stop-color="#0000f0"/><stop offset="0.234" stop-color="#0000ff"/><stop offset="0.372" stop-color="#0082ff"/><stop offset="0.386" stop-color="#008fff"/><stop offset="0.552" stop-color="#00ffff"/><stop offset="0.652" stop-color="#00ffda"/><stop offset="0.680" stop-color="#00ffc8"/><stop offset="0.842" stop-color="#00ff82"/><stop offset="0.850" stop-color="#00fe7e"/><stop offset="0.865" stop-color="#00fe7e"/><stop offset="0.880" stop-color="#00fc6c"/><stop offset="1.000" stop-color="#00fc6c"/></linearGradient>
<linearGradient id="g66" x1="0" y1="0" x2="0" y2="1"><stop offset="0.000" stop-color="#0000de"/><stop offset="0.120" stop-color="#0000de"/><stop offset="0.143" stop-color="#0000ff"/><stop offset="0.180" stop-color="#0082ff"/><stop offset="0.196" stop-color="#00bcff"/><stop offset="0.267" stop-color="#00ffff"/><stop offset="0.374" stop-color="#00ffc8"/><stop offset="0.386" stop-color="#00ffc4"/><stop offset="0.599" stop-color="#00ff82"/><stop offset="0.652" stop-color="#00fc6c"/><stop offset="0.850" stop-color="#00f421"/><stop offset="0.865" stop-color="#00f421"/><stop offset="0.880" stop-color="#00f216"/><stop offset="1.000" stop-color="#00f216"/></linearGradient>
<linearGradient id="g67" x1="0" y1="0" x2="0" y2="1"><stop offset="0.000" stop-color="#00ffe7"/><stop offset="0.120" stop-color="#00ffe7"/><stop offset="0.152" stop-color="#00ffc8"/><stop offset="0.196" stop-color="#00ffab"/><stop offset="0.275" stop-color="#00ff82"/><stop offset="0.386" stop-color="#00f636"/><stop offset="0.576" stop-color="#00f000"/><stop offset="0.690" stop-color="#38f600"/><stop offset="0.796" stop-color="#96ff00"/><stop offset="0.850" stop-color="#c3ff00"/><stop offset="0.865" stop-color="#c3ff00"/><stop offset="0.880" stop-color="#dcff00"/><stop offset="1.000" stop-color="#dcff00"/></linearGradient>
<linearGradient id="g68" x1="0" y1="0" x2="0" y2="1"><stop offset="0.000" stop-color="#0000c3"/><stop offset="0.120" stop-color="#0000c3"/><stop offset="0.348" stop-color="#0000e7"/><stop offset="0.419" stop-color="#0000ff"/><stop offset="0.538" stop-color="#0063ff"/><stop offset="0.585" stop-color="#0082ff"/><stop offset="0.690" stop-color="#00c7ff"/><stop offset="0.771" stop-color="#00ffff"/><stop offset="0.804" stop-color="#00fff3"/><stop offset="0.837" stop-color="#00ffc8"/><stop offset="0.850" stop-color="#00ffbd"/><stop offset="0.865" stop-color="#00ffbd"/><stop offset="0.880" stop-color="#00ffa3"/><stop offset="1.000" stop-color="#00ffa3"/></linearGradient>
<clipPath id="clip2"><rect x="81" y="250" width="419" height="76"/></clipPath>
<linearGradient id="g69" x1="0" y1="0" x2="0" y2="1"><stop offset="0.000" stop-color="#00fff9"/><stop offset="0.120" stop-color="#00fff9"/><stop offset="0.166" stop-color="#00ffe7"/><stop offset="0.196" stop-color="#00ffc8"/><stop offset="0.302" stop-color="#00ffa3"/><stop offset="0.400" stop-color="#00ff82"/><stop offset="0.424" stop-color="#00fe77"/><stop offset="0.530" stop-color="#00f94c"/><stop offset="0.614" stop-color="#00f216"/><stop offset="0.667" stop-color="#00f000"/><stop offset="0.698" stop-color="#38f600"/><stop offset="0.751" stop-color="#83fd00"/><stop offset="0.788" stop-color="#96ff00"/><stop offset="0.880" stop-color="#c2ff00"/><stop offset="1.000" stop-color="#c2ff00"/></linearGradient>
<linearGradient id="g70" x1="0" y1="0" x2="0" y2="1"><stop offset="0.000" stop-color="#00f000"/><stop offset="0.120" stop-color="#00f000"/><stop offset="0.196" stop-color="#96ff00"/><stop offset="0.500" stop-color="#eeff00"/><stop offset="0.880" stop-color="#dcff00"/><stop offset="1.000" stop-color="#dcff00"/></linearGradient>
<linearGradient id="g71" x1="0" y1="0" x2="0" y2="1"><stop offset="0.000" stop-color="#006eff"/><stop offset="0.120" stop-color="#006eff"/><stop offset="0.257" stop-color="#0082ff"/><stop offset="0.348" stop-color="#008fff"/><stop offset="0.462" stop-color="#00deff"/><stop offset="0.511" stop-color="#00ffff"/><stop offset="0.576" stop-color="#00ffe7"/><stop offset="0.608" stop-color="#00ffc8"/><stop offset="0.690" stop-color="#00ff92"/><stop offset="0.713" stop-color="#00ff82"/><stop offset="0.804" stop-color="#00f52b"/><stop offset="0.880" stop-color="#00f000"/><stop offset="1.000" stop-color="#00f000"/></linearGradient>
<linearGradient id="g72" x1="0" y1="0" x2="0" y2="1"><stop offset="0.000" stop-color="#00bcff"/><stop offset="0.120" stop-color="#00bcff"/><stop offset="0.257" stop-color="#00ffff"/><stop offset="0.348" stop-color="#00ffe7"/><stop offset="0.395" stop-color="#00ffc8"/><stop offset="0.500" stop-color="#00ff9b"/><stop offset="0.553" stop-color="#00ff82"/><stop offset="0.728" stop-color="#00f216"/><stop offset="0.771" stop-color="#00f000"/><stop offset="0.880" stop-color="#5ef900"/><stop offset="1.000" stop-color="#5ef900"/></linearGradient>
<linearGradient id="g73" x1="0" y1="0" x2="0" y2="1"><stop offset="0.000" stop-color="#004cff"/><stop offset="0.120" stop-color="#004cff"/><stop offset="0.363" stop-color="#0082ff"/><stop offset="0.424" stop-color="#008fff"/><stop offset="0.481" stop-color="#00ffff"/><stop offset="0.532" stop-color="#00ffc8"/><stop offset="0.538" stop-color="#00ffc4"/><stop offset="0.622" stop-color="#00ff82"/><stop offset="0.728" stop-color="#00f216"/><stop offset="0.771" stop-color="#00f000"/><stop offset="0.880" stop-color="#5ef900"/><stop offset="1.000" stop-color="#5ef900"/></linearGradient>
<linearGradient id="g74" x1="0" y1="0" x2="0" y2="1"><stop offset="0.000" stop-color="#00ffff"/><stop offset="0.120" stop-color="#00ffff"/><stop offset="0.325" stop-color="#00ffc8"/><stop offset="0.348" stop-color="#00ffc4"/><stop offset="0.500" stop-color="#00ff82"/><stop offset="0.728" stop-color="#00f000"/><stop offset="0.880" stop-color="#71fb00"/><stop offset="1.000" stop-color="#71fb00"/></linearGradient>
<linearGradient id="g75" x1="0" y1="0" x2="0" y2="1"><stop offset="0.000" stop-color="#00f216"/><stop offset="0.120" stop-color="#00f216"/><stop offset="0.158" stop-color="#00f000"/><stop offset="0.196" stop-color="#26f400"/><stop offset="0.257" stop-color="#83fd00"/><stop offset="0.275" stop-color="#96ff00"/><stop offset="0.363" stop-color="#eeff00"/><stop offset="0.622" stop-color="#ffff00"/><stop offset="0.880" stop-color="#fffa00"/><stop offset="1.000" stop-color="#fffa00"/></linearGradient>
<linearGradient id="g76" x1="0" y1="0" x2="0" y2="1"><stop offset="0.000" stop-color="#00ff9b"/><stop offset="0.120" stop-color="#00ff9b"/><stop offset="0.177" stop-color="#00ff82"/><stop offset="0.348" stop-color="#00f421"/><stop offset="0.525" stop-color="#00f000"/><stop offset="0.880" stop-color="#71fb00"/><stop offset="1.000" stop-color="#71fb00"/></linearGradient>
<linearGradient id="g77" x1="0" y1="0" x2="0" y2="1"><stop offset="0.000" stop-color="#00ffc4"/><stop offset="0.120" stop-color="#00ffc4"/><stop offset="0.193" stop-color="#00ff82"/><stop offset="0.211" stop-color="#00fc6c"/><stop offset="0.301" stop-color="#00f000"/><stop offset="0.310" stop-color="#13f200"/><stop offset="0.500" stop-color="#96ff00"/><stop offset="0.880" stop-color="#dcff00"/><stop offset="1.000" stop-color="#dcff00"/></linearGradient>
<linearGradient id="g78" x1="0" y1="0" x2="0" y2="1"><stop offset="0.000" stop-color="#00ffe7"/><stop offset="0.120" stop-color="#00ffe7"/><stop offset="0.177" stop-color="#00ffc8"/><stop offset="0.211" stop-color="#00ffbc"/><stop offset="0.288" stop-color="#00ff82"/><stop offset="0.310" stop-color="#00fc6c"/><stop offset="0.424" stop-color="#00f216"/><stop offset="0.475" stop-color="#00f000"/><stop offset="0.576" stop-color="#4bf800"/><stop offset="0.728" stop-color="#96ff00"/><stop offset="0.880" stop-color="#caff00"/><stop offset="1.000" stop-color="#caff00"/></linearGradient>
<linearGradient id="g79" x1="0" y1="0" x2="0" y2="1"><stop offset="0.000" stop-color="#00fff3"/><stop offset="0.120" stop-color="#00fff3"/><stop offset="0.234" stop-color="#00ffd4"/><stop offset="0.259" stop-color="#00ffc8"/><stop offset="0.348" stop-color="#00ffab"/><stop offset="0.411" stop-color="#00ff82"/><stop offset="0.462" stop-color="#00fa57"/><stop offset="0.576" stop-color="#00f000"/><stop offset="0.690" stop-color="#71fb00"/><stop offset="0.785" stop-color="#96ff00"/><stop offset="0.880" stop-color="#b9ff00"/><stop offset="1.000" stop-color="#b9ff00"/></linearGradient>
<linearGradient id="g80" x1="0" y1="0" x2="0" y2="1"><stop offset="0.000" stop-color="#00f000"/><stop offset="0.120" stop-color="#00f000"/><stop offset="0.272" stop-color="#83fd00"/><stop offset="0.348" stop-color="#96ff00"/><stop offset="0.500" stop-color="#b9ff00"/><stop offset="0.880" stop-color="#dcff00"/><stop offset="1.000" stop-color="#dcff00"/></linearGradient>
<linearGradient id="g81" x1="0" y1="0" x2="0" y2="1"><stop offset="0.000" stop-color="#00fff3"/><stop offset="0.120" stop-color="#00fff3"/><stop offset="0.186" stop-color="#00ffc8"/><stop offset="0.196" stop-color="#00ffc4"/><stop offset="0.310" stop-color="#00ff8a"/><stop offset="0.327" stop-color="#00ff82"/><stop offset="0.462" stop-color="#00f52b"/><stop offset="0.652" stop-color="#00f000"/><stop offset="0.728" stop-color="#83fd00"/><stop offset="0.758" stop-color="#96ff00"/><stop offset="0.880" stop-color="#dcff00"/><stop offset="1.000" stop-color="#dcff00"/></linearGradient>
<linearGradient id="g82" x1="0" y1="0" x2="0" y2="1"><stop offset="0.000" stop-color="#00ffc4"/><stop offset="0.120" stop-color="#00ffc4"/><stop offset="0.181" stop-color="#00ff82"/><stop offset="0.196" stop-color="#00fc6c"/><stop offset="0.259" stop-color="#00f000"/><stop offset="0.272" stop-color="#26f400"/><stop offset="0.424" stop-color="#83fd00"/><stop offset="0.576" stop-color="#5ef900"/><stop offset="0.690" stop-color="#71fb00"/><stop offset="0.728" stop-color="#96ff00"/><stop offset="0.766" stop-color="#b9ff00"/><stop offset="0.880" stop-color="#eeff00"/><stop offset="1.000" stop-color="#eeff00"/></linearGradient>
<linearGradient id="g83" x1="0" y1="0" x2="0" y2="1"><stop offset="0.000" stop-color="#00ffc4"/><stop offset="0.120" stop-color="#00ffc4"/><stop offset="0.161" stop-color="#00ff82"/><stop offset="0.196" stop-color="#00f636"/><stop offset="0.225" stop-color="#00f000"/><stop offset="0.272" stop-color="#96ff00"/><stop offset="0.424" stop-color="#eeff00"/><stop offset="0.576" stop-color="#b9ff00"/><stop offset="0.690" stop-color="#96ff00"/><stop offset="0.766" stop-color="#dcff00"/><stop offset="0.857" stop-color="#ffff00"/><stop offset="0.880" stop-color="#fffc00"/><stop offset="1.000" stop-color="#fffc00"/></linearGradient>
<linearGradient id="g84" x1="0" y1="0" x2="0" y2="1"><stop offset="0.000" stop-color="#00fff3"/><stop offset="0.120" stop-color="#00fff3"/><stop offset="0.150" stop-color="#00ffc8"/><stop offset="0.196" stop-color="#00ff9b"/><stop offset="0.234" stop-color="#00ff82"/><stop offset="0.348" stop-color="#00f421"/><stop offset="0.652" stop-color="#00f000"/><stop offset="0.728" stop-color="#71fb00"/><stop offset="0.779" stop-color="#96ff00"/><stop offset="0.880" stop-color="#dcff00"/><stop offset="1.000" stop-color="#dcff00"/></linearGradient>
<linearGradient id="g85" x1="0" y1="0" x2="0" y2="1"><stop offset="0.000" stop-color="#008fff"/><stop offset="0.120" stop-color="#008fff"/><stop offset="0.183" stop-color="#00ffff"/><stop offset="0.196" stop-color="#00fff3"/><stop offset="0.224" stop-color="#00ffc8"/><stop offset="0.294" stop-color="#00ff82"/><stop offset="0.310" stop-color="#00fc6c"/><stop offset="0.500" stop-color="#00f10b"/><stop offset="0.557" stop-color="#00f000"/><stop offset="0.728" stop-color="#38f600"/><stop offset="0.837" stop-color="#96ff00"/><stop offset="0.880" stop-color="#b9ff00"/><stop offset="1.000" stop-color="#b9ff00"/></linearGradient>
<linearGradient id="g86" x1="0" y1="0" x2="0" y2="1"><stop offset="0.000" stop-color="#00f636"/><stop offset="0.120" stop-color="#00f636"/><stop offset="0.211" stop-color="#00f000"/><stop offset="0.260" stop-color="#96ff00"/><stop offset="0.272" stop-color="#b9ff00"/><stop offset="0.424" stop-color="#ffff00"/><stop offset="0.500" stop-color="#fff500"/><stop offset="0.728" stop-color="#ffe000"/><stop offset="0.806" stop-color="#ffc800"/><stop offset="0.880" stop-color="#ffa100"/><stop offset="1.000" stop-color="#ffa100"/></linearGradient>
<linearGradient id="g87" x1="0" y1="0" x2="0" y2="1"><stop offset="0.000" stop-color="#00ffff"/><stop offset="0.120" stop-color="#00ffff"/><stop offset="0.257" stop-color="#00ffc8"/><stop offset="0.272" stop-color="#00ffc4"/><stop offset="0.394" stop-color="#00ff82"/><stop offset="0.424" stop-color="#00fc6c"/><stop offset="0.457" stop-color="#00ff82"/><stop offset="0.538" stop-color="#00ffab"/><stop offset="0.619" stop-color="#00ff82"/><stop offset="0.652" stop-color="#00fc6c"/><stop offset="0.766" stop-color="#00f421"/><stop offset="0.880" stop-color="#00f000"/><stop offset="1.000" stop-color="#00f000"/></linearGradient>
<linearGradient id="g88" x1="0" y1="0" x2="0" y2="1"><stop offset="0.000" stop-color="#008fff"/><stop offset="0.120" stop-color="#008fff"/><stop offset="0.219" stop-color="#00bcff"/><stop offset="0.251" stop-color="#00ffff"/><stop offset="0.272" stop-color="#00ffe7"/><stop offset="0.298" stop-color="#00ffc8"/><stop offset="0.386" stop-color="#00ff82"/><stop offset="0.494" stop-color="#00ffc8"/><stop offset="0.500" stop-color="#00ffce"/><stop offset="0.576" stop-color="#00ffe7"/><stop offset="0.597" stop-color="#00ffc8"/><stop offset="0.652" stop-color="#00ff92"/><stop offset="0.673" stop-color="#00ff82"/><stop offset="0.766" stop-color="#00f421"/><stop offset="0.880" stop-color="#00f000"/><stop offset="1.000" stop-color="#00f000"/></linearGradient>
<linearGradient id="g89" x1="0" y1="0" x2="0" y2="1"><stop offset="0.000" stop-color="#00ffff"/><stop offset="0.120" stop-color="#00ffff"/><stop offset="0.218" stop-color="#00ffc8"/><stop offset="0.272" stop-color="#00ffb3"/><stop offset="0.363" stop-color="#00ff82"/><stop offset="0.424" stop-color="#00fa57"/><stop offset="0.538" stop-color="#00ff82"/><stop offset="0.652" stop-color="#00f636"/><stop offset="0.815" stop-color="#00f000"/><stop offset="0.880" stop-color="#26f400"/><stop offset="1.000" stop-color="#26f400"/></linearGradient>
<linearGradient id="g90" x1="0" y1="0" x2="0" y2="1"><stop offset="0.000" stop-color="#00fa57"/><stop offset="0.120" stop-color="#00fa57"/><stop offset="0.211" stop-color="#00f000"/><stop offset="0.272" stop-color="#96ff00"/><stop offset="0.287" stop-color="#b9ff00"/><stop offset="0.457" stop-color="#ffff00"/><stop offset="0.500" stop-color="#fffa00"/><stop offset="0.880" stop-color="#fff500"/><stop offset="1.000" stop-color="#fff500"/></linearGradient>
<linearGradient id="g91" x1="0" y1="0" x2="0" y2="1"><stop offset="0.000" stop-color="#00ffff"/><stop offset="0.120" stop-color="#00ffff"/><stop offset="0.272" stop-color="#00ffda"/><stop offset="0.280" stop-color="#00ffc8"/><stop offset="0.326" stop-color="#00ff82"/><stop offset="0.348" stop-color="#00fa57"/><stop offset="0.576" stop-color="#00f216"/><stop offset="0.880" stop-color="#00f000"/><stop offset="1.000" stop-color="#00f000"/></linearGradient>
<linearGradient id="g92" x1="0" y1="0" x2="0" y2="1"><stop offset="0.000" stop-color="#00f000"/><stop offset="0.120" stop-color="#00f000"/><stop offset="0.211" stop-color="#5ef900"/><stop offset="0.310" stop-color="#83fd00"/><stop offset="0.333" stop-color="#96ff00"/><stop offset="0.424" stop-color="#dcff00"/><stop offset="0.462" stop-color="#ffff00"/><stop offset="0.538" stop-color="#ffea00"/><stop offset="0.728" stop-color="#ffcb00"/><stop offset="0.746" stop-color="#ffc800"/><stop offset="0.880" stop-color="#ffa100"/><stop offset="1.000" stop-color="#ffa100"/></linearGradient>
<linearGradient id="g93" x1="0" y1="0" x2="0" y2="1"><stop offset="0.000" stop-color="#00f000"/><stop offset="0.120" stop-color="#00f000"/><stop offset="0.211" stop-color="#5ef900"/><stop offset="0.310" stop-color="#71fb00"/><stop offset="0.356" stop-color="#96ff00"/><stop offset="0.424" stop-color="#caff00"/><stop offset="0.470" stop-color="#ffff00"/><stop offset="0.515" stop-color="#ffef00"/><stop offset="0.705" stop-color="#ffcb00"/><stop offset="0.726" stop-color="#ffc800"/><stop offset="0.880" stop-color="#ffa100"/><stop offset="1.000" stop-color="#ffa100"/></linearGradient>
<linearGradient id="g94" x1="0" y1="0" x2="0" y2="1"><stop offset="0.000" stop-color="#00f000"/><stop offset="0.120" stop-color="#00f000"/><stop offset="0.234" stop-color="#5ef900"/><stop offset="0.348" stop-color="#96ff00"/><stop offset="0.446" stop-color="#ffff00"/><stop offset="0.462" stop-color="#fffa00"/><stop offset="0.652" stop-color="#ffd500"/><stop offset="0.751" stop-color="#ffc800"/><stop offset="0.880" stop-color="#ffaa00"/><stop offset="1.000" stop-color="#ffaa00"/></linearGradient>
<linearGradient id="g95" x1="0" y1="0" x2="0" y2="1"><stop offset="0.000" stop-color="#00ff9b"/><stop offset="0.120" stop-color="#00ff9b"/><stop offset="0.150" stop-color="#00ff82"/><stop offset="0.272" stop-color="#00f000"/><stop offset="0.500" stop-color="#83fd00"/><stop offset="0.576" stop-color="#96ff00"/><stop offset="0.880" stop-color="#dcff00"/><stop offset="1.000" stop-color="#dcff00"/></linearGradient>
<linearGradient id="g96" x1="0" y1="0" x2="0" y2="1"><stop offset="0.000" stop-color="#5ef900"/><stop offset="0.120" stop-color="#5ef900"/><stop offset="0.185" stop-color="#96ff00"/><stop offset="0.272" stop-color="#dcff00"/><stop offset="0.576" stop-color="#ffff00"/><stop offset="0.880" stop-color="#fff500"/><stop offset="1.000" stop-color="#fff500"/></linearGradient>
<linearGradient id="g97" x1="0" y1="0" x2="0" y2="1"><stop offset="0.000" stop-color="#b9ff00"/><stop offset="0.120" stop-color="#b9ff00"/><stop offset="0.424" stop-color="#ffff00"/><stop offset="0.880" stop-color="#ffe000"/><stop offset="1.000" stop-color="#ffe000"/></linearGradient>
<linearGradient id="g98" x1="0" y1="0" x2="0" y2="1"><stop offset="0.000" stop-color="#00fc6c"/><stop offset="0.120" stop-color="#00fc6c"/><stop offset="0.880" stop-color="#00f000"/><stop offset="1.000" stop-color="#00f000"/></linearGradient>
<clipPath id="clip3"><rect x="81" y="365" width="419" height="76"/></clipPath>
<linearGradient id="g99" x1="0" y1="0" x2="0" y2="1"><stop offset="0.000" stop-color="#0000a7"/><stop offset="0.120" stop-color="#0000a7"/><stop offset="0.211" stop-color="#0000b5"/><stop offset="0.310" stop-color="#0000cc"/><stop offset="0.394" stop-color="#0000e3"/><stop offset="0.470" stop-color="#0000f0"/><stop offset="0.530" stop-color="#0000fe"/><stop offset="0.533" stop-color="#0000ff"/><stop offset="0.591" stop-color="#0036ff"/><stop offset="0.629" stop-color="#0079ff"/><stop offset="0.633" stop-color="#0082ff"/><stop offset="0.660" stop-color="#00bcff"/><stop offset="0.680" stop-color="#00ffff"/><stop offset="0.710" stop-color="#00ffce"/><stop offset="0.712" stop-color="#00ffc8"/><stop offset="0.740" stop-color="#00ff92"/><stop offset="0.747" stop-color="#00ff82"/><stop offset="0.775" stop-color="#00f52b"/><stop offset="0.792" stop-color="#00f000"/><stop offset="0.800" stop-color="#26f400"/><stop offset="0.815" stop-color="#96ff00"/><stop offset="0.826" stop-color="#eeff00"/><stop offset="0.828" stop-color="#ffff00"/><stop offset="0.840" stop-color="#ffd500"/><stop offset="0.843" stop-color="#ffc800"/><stop offset="0.853" stop-color="#ff8600"/><stop offset="0.853" stop-color="#ff8200"/><stop offset="0.862" stop-color="#ff3c00"/><stop offset="0.863" stop-color="#ff3500"/><stop offset="0.872" stop-color="#ff0000"/><stop offset="0.880" stop-color="#ff0000"/><stop offset="1.000" stop-color="#ff0000"/></linearGradient>
<clipPath id="za3"><rect x="81" y="365" width="419" height="60"/></clipPath>
<clipPath id="zb3"><rect x="81" y="425" width="419" height="16"/></clipPath>
<linearGradient id="g100" x1="0" y1="0" x2="0" y2="1"><stop offset="0.000" stop-color="#00f421"/><stop offset="0.120" stop-color="#00f421"/><stop offset="0.766" stop-color="#00f000"/><stop offset="0.793" stop-color="#96ff00"/><stop offset="0.813" stop-color="#ffff00"/><stop offset="0.840" stop-color="#ffd500"/><stop offset="0.843" stop-color="#ffc800"/><stop offset="0.853" stop-color="#ff8600"/><stop offset="0.853" stop-color="#ff8200"/><stop offset="0.862" stop-color="#ff3c00"/><stop offset="0.863" stop-color="#ff3500"/><stop offset="0.872" stop-color="#ff0000"/><stop offset="0.880" stop-color="#ff0000"/><stop offset="1.000" stop-color="#ff0000"/></linearGradient>
<linearGradient id="g101" x1="0" y1="0" x2="0" y2="1"><stop offset="0.000" stop-color="#5ef900"/><stop offset="0.120" stop-color="#5ef900"/><stop offset="0.508" stop-color="#96ff00"/><stop offset="0.766" stop-color="#b9ff00"/><stop offset="0.791" stop-color="#ffff00"/><stop offset="0.840" stop-color="#ffd500"/><stop offset="0.843" stop-color="#ffc800"/><stop offset="0.853" stop-color="#ff8600"/><stop offset="0.853" stop-color="#ff8200"/><stop offset="0.862" stop-color="#ff3c00"/><stop offset="0.863" stop-color="#ff3500"/><stop offset="0.872" stop-color="#ff0000"/><stop offset="0.880" stop-color="#ff0000"/><stop offset="1.000" stop-color="#ff0000"/></linearGradient>
<linearGradient id="g102" x1="0" y1="0" x2="0" y2="1"><stop offset="0.000" stop-color="#b9ff00"/><stop offset="0.120" stop-color="#b9ff00"/><stop offset="0.264" stop-color="#ffff00"/><stop offset="0.644" stop-color="#ffc800"/><stop offset="0.766" stop-color="#ffaa00"/><stop offset="0.840" stop-color="#ffaa00"/><stop offset="0.853" stop-color="#ff8600"/><stop offset="0.853" stop-color="#ff8200"/><stop offset="0.862" stop-color="#ff3c00"/><stop offset="0.863" stop-color="#ff3500"/><stop offset="0.872" stop-color="#ff0000"/><stop offset="0.880" stop-color="#ff0000"/><stop offset="1.000" stop-color="#ff0000"/></linearGradient>
<linearGradient id="g103" x1="0" y1="0" x2="0" y2="1"><stop offset="0.000" stop-color="#00ffab"/><stop offset="0.120" stop-color="#00ffab"/><stop offset="0.389" stop-color="#00ff82"/><stop offset="0.766" stop-color="#00f636"/><stop offset="0.780" stop-color="#00f000"/><stop offset="0.801" stop-color="#96ff00"/><stop offset="0.818" stop-color="#ffff00"/><stop offset="0.840" stop-color="#ffd500"/><stop offset="0.843" stop-color="#ffc800"/><stop offset="0.853" stop-color="#ff8600"/><stop offset="0.853" stop-color="#ff8200"/><stop offset="0.862" stop-color="#ff3c00"/><stop offset="0.863" stop-color="#ff3500"/><stop offset="0.872" stop-color="#ff0000"/><stop offset="0.880" stop-color="#ff0000"/><stop offset="1.000" stop-color="#ff0000"/></linearGradient>
<linearGradient id="g104" x1="0" y1="0" x2="0" y2="1"><stop offset="0.000" stop-color="#00f000"/><stop offset="0.120" stop-color="#00f000"/><stop offset="0.637" stop-color="#96ff00"/><stop offset="0.766" stop-color="#b9ff00"/><stop offset="0.791" stop-color="#ffff00"/><stop offset="0.840" stop-color="#ffd500"/><stop offset="0.843" stop-color="#ffc800"/><stop offset="0.853" stop-color="#ff8600"/><stop offset="0.853" stop-color="#ff8200"/><stop offset="0.862" stop-color="#ff3c00"/><stop offset="0.863" stop-color="#ff3500"/><stop offset="0.872" stop-color="#ff0000"/><stop offset="0.880" stop-color="#ff0000"/><stop offset="1.000" stop-color="#ff0000"/></linearGradient>
<linearGradient id="g105" x1="0" y1="0" x2="0" y2="1"><stop offset="0.000" stop-color="#dcff00"/><stop offset="0.120" stop-color="#dcff00"/><stop offset="0.335" stop-color="#ffff00"/><stop offset="0.766" stop-color="#ffea00"/><stop offset="0.840" stop-color="#ffd500"/><stop offset="0.843" stop-color="#ffc800"/><stop offset="0.853" stop-color="#ff8600"/><stop offset="0.853" stop-color="#ff8200"/><stop offset="0.862" stop-color="#ff3c00"/><stop offset="0.863" stop-color="#ff3500"/><stop offset="0.872" stop-color="#ff0000"/><stop offset="0.880" stop-color="#ff0000"/><stop offset="1.000" stop-color="#ff0000"/></linearGradient>
<linearGradient id="g106" x1="0" y1="0" x2="0" y2="1"><stop offset="0.000" stop-color="#ffea00"/><stop offset="0.120" stop-color="#ffea00"/><stop offset="0.475" stop-color="#ffc800"/><stop offset="0.766" stop-color="#ff9800"/><stop offset="0.840" stop-color="#ff9800"/><stop offset="0.853" stop-color="#ff8600"/><stop offset="0.853" stop-color="#ff8200"/><stop offset="0.862" stop-color="#ff3c00"/><stop offset="0.863" stop-color="#ff3500"/><stop offset="0.872" stop-color="#ff0000"/><stop offset="0.880" stop-color="#ff0000"/><stop offset="1.000" stop-color="#ff0000"/></linearGradient>
<linearGradient id="g107" x1="0" y1="0" x2="0" y2="1"><stop offset="0.000" stop-color="#00ffe7"/><stop offset="0.120" stop-color="#00ffe7"/><stop offset="0.244" stop-color="#00ffc8"/><stop offset="0.667" stop-color="#00ff82"/><stop offset="0.766" stop-color="#00fc6c"/><stop offset="0.789" stop-color="#00f000"/><stop offset="0.807" stop-color="#96ff00"/><stop offset="0.821" stop-color="#ffff00"/><stop offset="0.840" stop-color="#ffd500"/><stop offset="0.843" stop-color="#ffc800"/><stop offset="0.853" stop-color="#ff8600"/><stop offset="0.853" stop-color="#ff8200"/><stop offset="0.862" stop-color="#ff3c00"/><stop offset="0.863" stop-color="#ff3500"/><stop offset="0.872" stop-color="#ff0000"/><stop offset="0.880" stop-color="#ff0000"/><stop offset="1.000" stop-color="#ff0000"/></linearGradient>
<clipPath id="clip4"><rect x="81" y="461" width="419" height="76"/></clipPath>
<clipPath id="za4"><rect x="81" y="461" width="419" height="60"/></clipPath>
<clipPath id="zb4"><rect x="81" y="521" width="419" height="16"/></clipPath>
<linearGradient id="g108" x1="0" y1="0" x2="0" y2="1"><stop offset="0.000" stop-color="#0000f0"/><stop offset="0.120" stop-color="#0000f0"/><stop offset="0.249" stop-color="#0000ff"/><stop offset="0.718" stop-color="#0082ff"/><stop offset="0.766" stop-color="#008fff"/><stop offset="0.773" stop-color="#00ffff"/><stop offset="0.779" stop-color="#00ffc8"/><stop offset="0.792" stop-color="#00ff82"/><stop offset="0.809" stop-color="#00f000"/><stop offset="0.820" stop-color="#96ff00"/><stop offset="0.828" stop-color="#ffff00"/><stop offset="0.840" stop-color="#ffd500"/><stop offset="0.843" stop-color="#ffc800"/><stop offset="0.853" stop-color="#ff8600"/><stop offset="0.853" stop-color="#ff8200"/><stop offset="0.862" stop-color="#ff3c00"/><stop offset="0.863" stop-color="#ff3500"/><stop offset="0.872" stop-color="#ff0000"/><stop offset="0.880" stop-color="#ff0000"/><stop offset="1.000" stop-color="#ff0000"/></linearGradient>
<clipPath id="clip5"><rect x="81" y="557" width="419" height="76"/></clipPath>
<clipPath id="za5"><rect x="81" y="557" width="419" height="60"/></clipPath>
<clipPath id="zb5"><rect x="81" y="617" width="419" height="16"/></clipPath>
<linearGradient id="g109" x1="0" y1="0" x2="0" y2="1"><stop offset="0.000" stop-color="#00f421"/><stop offset="0.120" stop-color="#00f421"/><stop offset="0.362" stop-color="#00f000"/><stop offset="0.766" stop-color="#5ef900"/><stop offset="0.779" stop-color="#96ff00"/><stop offset="0.805" stop-color="#ffff00"/><stop offset="0.840" stop-color="#ffd500"/><stop offset="0.843" stop-color="#ffc800"/><stop offset="0.853" stop-color="#ff8600"/><stop offset="0.853" stop-color="#ff8200"/><stop offset="0.862" stop-color="#ff3c00"/><stop offset="0.863" stop-color="#ff3500"/><stop offset="0.872" stop-color="#ff0000"/><stop offset="0.880" stop-color="#ff0000"/><stop offset="1.000" stop-color="#ff0000"/></linearGradient>
<linearGradient id="g110" x1="0" y1="0" x2="0" y2="1"><stop offset="0.000" stop-color="#ff0000"/><stop offset="0.090" stop-color="#ff3c00"/><stop offset="0.175" stop-color="#ff8200"/><stop offset="0.254" stop-color="#ffc800"/><stop offset="0.360" stop-color="#ffff00"/><stop offset="0.420" stop-color="#96ff00"/><stop offset="0.500" stop-color="#00f000"/><stop offset="0.620" stop-color="#00ff82"/><stop offset="0.705" stop-color="#00ffc8"/><stop offset="0.750" stop-color="#00ffff"/><stop offset="0.806" stop-color="#0082ff"/><stop offset="0.864" stop-color="#0000ff"/><stop offset="1.000" stop-color="#000083"/></linearGradient>
</defs>
<g clip-path="url(#clip0)"><rect x="79" y="46" width="423" height="100" fill="url(#g0)"/>
<g filter="url(#nz2)"><rect x="81" y="46" width="2" height="100" fill="url(#g1)"/><rect x="83" y="46" width="2" height="100" fill="url(#g0)"/><rect x="85" y="46" width="1.6" height="100" fill="url(#g2)"/><rect x="86.6" y="46" width="7.4" height="100" fill="url(#g3)"/><rect x="94" y="46" width="1" height="100" fill="url(#g4)"/><rect x="95" y="46" width="2" height="100" fill="url(#g5)"/><rect x="97" y="46" width="4.3" height="100" fill="url(#g6)"/><rect x="123.6" y="46" width="20.4" height="100" fill="url(#g7)"/><rect x="131.5" y="46" width="12.5" height="100" fill="url(#g8)"/><polygon points="131.5,46 135.89,46 145.11,146 131.5,146" fill="url(#g9)"/><polygon points="131.5,46 133.47,46 142.03,146 131.5,146" fill="url(#g10)"/><rect x="123.6" y="46" width="8.1" height="100" fill="url(#g11)"/><polygon points="131.7,46 131.53,46 135.47,146 131.7,146" fill="url(#g12)"/><rect x="144" y="46" width="2" height="100" fill="url(#g4)"/><rect x="146" y="46" width="2" height="100" fill="url(#g7)"/><rect x="148" y="46" width="1.3" height="100" fill="url(#g4)"/><rect x="149.3" y="46" width="1.5" height="100" fill="url(#g7)"/><rect x="150.8" y="46" width="1.2" height="100" fill="url(#g13)"/><rect x="152" y="46" width="1" height="100" fill="url(#g7)"/><rect x="153" y="46" width="1" height="100" fill="url(#g14)"/><rect x="154" y="46" width="1" height="100" fill="url(#g7)"/><rect x="155" y="46" width="1" height="100" fill="url(#g4)"/><rect x="156" y="46" width="1" height="100" fill="url(#g7)"/><rect x="157" y="46" width="3" height="100" fill="url(#g4)"/><rect x="160" y="46" width="2" height="100" fill="url(#g7)"/><rect x="162" y="46" width="2.5" height="100" fill="url(#g15)"/><rect x="164.5" y="46" width="8.5" height="100" fill="url(#g0)"/><rect x="173" y="46" width="2" height="100" fill="url(#g15)"/><rect x="175" y="46" width="1.7" height="100" fill="url(#g16)"/><rect x="176.7" y="46" width="8.3" height="100" fill="url(#g17)"/><rect x="179" y="46" width="1" height="100" fill="url(#g18)"/><rect x="185" y="46" width="1.7" height="100" fill="url(#g0)"/><rect x="186.7" y="46" width="3.3" height="100" fill="url(#g19)"/><rect x="190" y="46" width="3" height="100" fill="url(#g7)"/><rect x="193" y="46" width="1" height="100" fill="url(#g15)"/><rect x="195.5" y="46" width="2" height="100" fill="url(#g19)"/><rect x="199" y="46" width="1" height="100" fill="url(#g15)"/><rect x="208" y="46" width="1" height="100" fill="url(#g15)"/><rect x="214" y="46" width="1" height="100" fill="url(#g15)"/><rect x="237.8" y="46" width="4.8" height="100" fill="url(#g7)"/><rect x="242.6" y="46" width="1.7" height="100" fill="url(#g20)"/><rect x="244.3" y="46" width="2.7" height="100" fill="url(#g21)"/><rect x="247" y="46" width="8.6" height="100" fill="url(#g22)"/><rect x="255.6" y="46" width="7" height="100" fill="url(#g23)"/><rect x="262.6" y="46" width="2.7" height="100" fill="url(#g24)"/><rect x="265.3" y="46" width="2.7" height="100" fill="url(#g25)"/><rect x="268" y="46" width="4.3" height="100" fill="url(#g0)"/><rect x="272.3" y="46" width="2.7" height="100" fill="url(#g26)"/><rect x="364" y="46" width="1" height="100" fill="url(#g27)"/><rect x="366" y="46" width="2" height="100" fill="url(#g13)"/><rect x="368.6" y="46" width="1.4" height="100" fill="url(#g28)"/><rect x="376" y="46" width="4" height="100" fill="url(#g29)"/><rect x="380" y="46" width="4.6" height="100" fill="url(#g30)"/><rect x="385" y="46" width="2.2" height="100" fill="url(#g31)"/><rect x="387.2" y="46" width="4.7" height="100" fill="url(#g0)"/><rect x="391.9" y="46" width="5.1" height="100" fill="url(#g32)"/><rect x="397" y="46" width="5.8" height="100" fill="url(#g33)"/><rect x="402.8" y="46" width="1.2" height="100" fill="url(#g34)"/><rect x="404" y="46" width="4" height="100" fill="url(#g35)"/><rect x="413" y="46" width="7" height="100" fill="url(#g36)"/><rect x="420" y="46" width="7.7" height="100" fill="url(#g37)"/><rect x="427.7" y="46" width="1.3" height="100" fill="url(#g38)"/><rect x="429" y="46" width="1.6" height="100" fill="url(#g7)"/><rect x="430.6" y="46" width="7.8" height="100" fill="url(#g39)"/><rect x="438.4" y="46" width="3.2" height="100" fill="url(#g40)"/><rect x="441.6" y="46" width="18.4" height="100" fill="url(#g7)"/><rect x="460" y="46" width="40" height="100" fill="url(#g41)"/><rect x="443.6" y="46" width="4" height="100" fill="url(#g19)"/><rect x="451" y="46" width="1.5" height="100" fill="url(#g15)"/><rect x="456" y="46" width="1" height="100" fill="url(#g15)"/><rect x="463.5" y="46" width="1.5" height="100" fill="url(#g42)"/><rect x="470" y="46" width="1.5" height="100" fill="url(#g42)"/><rect x="476" y="46" width="3" height="100" fill="url(#g19)"/><rect x="479" y="46" width="4.4" height="100" fill="url(#g42)"/><rect x="486" y="46" width="1.4" height="100" fill="url(#g43)"/><rect x="488.7" y="46" width="2.3" height="100" fill="url(#g19)"/><rect x="491" y="46" width="3" height="100" fill="url(#g42)"/><rect x="497.4" y="46" width="1.3" height="100" fill="url(#g42)"/></g>
<g filter="url(#dm)" opacity="0.75"><rect x="83" y="58" width="2" height="73" fill="#000088"/><rect x="95" y="58" width="2" height="73" fill="#000088"/><rect x="101.3" y="58" width="22.3" height="73" fill="#000088"/><rect x="146" y="58" width="2" height="73" fill="#000088"/><rect x="149.3" y="58" width="1.5" height="73" fill="#000088"/><rect x="152" y="58" width="1" height="73" fill="#000088"/><rect x="154" y="58" width="1" height="73" fill="#000088"/><rect x="156" y="58" width="1" height="73" fill="#000088"/><rect x="160" y="58" width="15" height="73" fill="#000088"/><rect x="185" y="58" width="1.7" height="73" fill="#000088"/><rect x="190" y="58" width="5.5" height="73" fill="#000088"/><rect x="197.5" y="58" width="45.1" height="73" fill="#000088"/><rect x="268" y="58" width="4.3" height="73" fill="#000088"/><rect x="275" y="58" width="89" height="73" fill="#000088"/><rect x="365" y="58" width="1" height="73" fill="#000088"/><rect x="368" y="58" width="0.6" height="73" fill="#000088"/><rect x="370" y="58" width="10" height="73" fill="#000088"/><rect x="384.6" y="58" width="0.4" height="73" fill="#000088"/><rect x="387.2" y="58" width="4.7" height="73" fill="#000088"/><rect x="408" y="58" width="19.7" height="73" fill="#000088"/><rect x="429" y="58" width="1.6" height="73" fill="#000088"/><rect x="441.6" y="58" width="2" height="73" fill="#000088"/><rect x="447.6" y="58" width="15.9" height="73" fill="#000088"/><rect x="465" y="58" width="5" height="73" fill="#000088"/><rect x="471.5" y="58" width="4.5" height="73" fill="#000088"/><rect x="483.4" y="58" width="2.6" height="73" fill="#000088"/><rect x="487.4" y="58" width="1.3" height="73" fill="#000088"/><rect x="494" y="58" width="3.4" height="73" fill="#000088"/><rect x="498.7" y="58" width="1.3" height="73" fill="#000088"/></g>
<g filter="url(#sp)"><rect x="83" y="58" width="2" height="76" fill="url(#spg)"/><rect x="95" y="58" width="2" height="76" fill="url(#spg)"/><rect x="101.3" y="58" width="22.3" height="76" fill="url(#spg)"/><rect x="146" y="58" width="2" height="76" fill="url(#spg)"/><rect x="149.3" y="58" width="1.5" height="76" fill="url(#spg)"/><rect x="152" y="58" width="1" height="76" fill="url(#spg)"/><rect x="154" y="58" width="1" height="76" fill="url(#spg)"/><rect x="156" y="58" width="1" height="76" fill="url(#spg)"/><rect x="160" y="58" width="15" height="76" fill="url(#spg)"/><rect x="185" y="58" width="1.7" height="76" fill="url(#spg)"/><rect x="190" y="58" width="5.5" height="76" fill="url(#spg)"/><rect x="197.5" y="58" width="45.1" height="76" fill="url(#spg)"/><rect x="268" y="58" width="4.3" height="76" fill="url(#spg)"/><rect x="275" y="58" width="89" height="76" fill="url(#spg)"/><rect x="365" y="58" width="1" height="76" fill="url(#spg)"/><rect x="368" y="58" width="0.6" height="76" fill="url(#spg)"/><rect x="370" y="58" width="10" height="76" fill="url(#spg)"/><rect x="384.6" y="58" width="0.4" height="76" fill="url(#spg)"/><rect x="387.2" y="58" width="4.7" height="76" fill="url(#spg)"/><rect x="408" y="58" width="19.7" height="76" fill="url(#spg)"/><rect x="429" y="58" width="1.6" height="76" fill="url(#spg)"/><rect x="441.6" y="58" width="2" height="76" fill="url(#spg)"/><rect x="447.6" y="58" width="15.9" height="76" fill="url(#spg)"/><rect x="465" y="58" width="5" height="76" fill="url(#spg)"/><rect x="471.5" y="58" width="4.5" height="76" fill="url(#spg)"/><rect x="483.4" y="58" width="2.6" height="76" fill="url(#spg)"/><rect x="487.4" y="58" width="1.3" height="76" fill="url(#spg)"/><rect x="494" y="58" width="3.4" height="76" fill="url(#spg)"/><rect x="498.7" y="58" width="1.3" height="76" fill="url(#spg)"/></g>
<g filter="url(#mt)"><rect x="85" y="58" width="9" height="76" fill="url(#mtg)"/><rect x="95" y="58" width="6.3" height="76" fill="url(#mtg)"/><rect x="135" y="58" width="9" height="76" fill="url(#mtg)"/><rect x="153" y="58" width="1" height="76" fill="url(#mtg)"/><rect x="162" y="58" width="2.5" height="76" fill="url(#mtg)"/><rect x="173" y="58" width="2" height="76" fill="url(#mtg)"/><rect x="186.7" y="58" width="3.3" height="76" fill="url(#mtg)"/><rect x="193" y="58" width="1" height="76" fill="url(#mtg)"/><rect x="195.5" y="58" width="2" height="76" fill="url(#mtg)"/><rect x="199" y="58" width="1" height="76" fill="url(#mtg)"/><rect x="208" y="58" width="1" height="76" fill="url(#mtg)"/><rect x="214" y="58" width="1" height="76" fill="url(#mtg)"/><rect x="242.6" y="58" width="4.4" height="76" fill="url(#mtg)"/><rect x="255.6" y="58" width="7" height="76" fill="url(#mtg)"/><rect x="265.3" y="58" width="2.7" height="76" fill="url(#mtg)"/><rect x="272.3" y="58" width="2.7" height="76" fill="url(#mtg)"/><rect x="364" y="58" width="1" height="76" fill="url(#mtg)"/><rect x="368.6" y="58" width="1.4" height="76" fill="url(#mtg)"/><rect x="391.9" y="58" width="10.9" height="76" fill="url(#mtg)"/><rect x="404" y="58" width="4" height="76" fill="url(#mtg)"/><rect x="438.4" y="58" width="3.2" height="76" fill="url(#mtg)"/><rect x="443.6" y="58" width="4" height="76" fill="url(#mtg)"/><rect x="451" y="58" width="1.5" height="76" fill="url(#mtg)"/><rect x="456" y="58" width="1" height="76" fill="url(#mtg)"/><rect x="460" y="58" width="40" height="76" fill="url(#mtg)"/></g>
<rect x="124" y="69.5" width="45" height="2" fill="#00deff" opacity="0.95"/>
<rect x="255" y="69.5" width="22" height="2" fill="#00deff" opacity="0.95"/></g>
<g clip-path="url(#clip1)"><rect x="79" y="142" width="423" height="100" fill="url(#g0)"/>
<g filter="url(#nz2)"><rect x="81" y="142" width="1" height="100" fill="url(#g44)"/><rect x="82" y="142" width="3" height="100" fill="url(#g0)"/><rect x="85" y="142" width="2.5" height="100" fill="url(#g45)"/><rect x="87.5" y="142" width="6.5" height="100" fill="url(#g46)"/><rect x="94" y="142" width="1" height="100" fill="url(#g4)"/><rect x="95" y="142" width="3.5" height="100" fill="url(#g47)"/><rect x="98.5" y="142" width="2.8" height="100" fill="url(#g48)"/><rect x="123.6" y="142" width="20.4" height="100" fill="url(#g49)"/><rect x="126" y="142" width="1" height="100" fill="url(#g50)"/><rect x="129" y="142" width="1" height="100" fill="url(#g50)"/><rect x="133" y="142" width="1" height="100" fill="url(#g50)"/><rect x="138.5" y="142" width="1" height="100" fill="url(#g50)"/><polygon points="135.37,142 144,142 144,242 140.63,242" fill="url(#g51)"/><rect x="144" y="142" width="2" height="100" fill="url(#g4)"/><rect x="146" y="142" width="2" height="100" fill="url(#g42)"/><rect x="148" y="142" width="1.3" height="100" fill="url(#g13)"/><rect x="149.3" y="142" width="1.5" height="100" fill="url(#g42)"/><rect x="150.8" y="142" width="1.2" height="100" fill="url(#g4)"/><rect x="152" y="142" width="3" height="100" fill="url(#g19)"/><rect x="155" y="142" width="1" height="100" fill="url(#g4)"/><rect x="156" y="142" width="1" height="100" fill="url(#g19)"/><rect x="157" y="142" width="3" height="100" fill="url(#g4)"/><rect x="160" y="142" width="2" height="100" fill="url(#g7)"/><rect x="162" y="142" width="3" height="100" fill="url(#g19)"/><rect x="165" y="142" width="5" height="100" fill="url(#g7)"/><rect x="170" y="142" width="2" height="100" fill="url(#g15)"/><rect x="172" y="142" width="3" height="100" fill="url(#g7)"/><rect x="175" y="142" width="1.7" height="100" fill="url(#g16)"/><rect x="176.7" y="142" width="8.3" height="100" fill="url(#g17)"/><rect x="179" y="142" width="1" height="100" fill="url(#g18)"/><rect x="185" y="142" width="1.7" height="100" fill="url(#g0)"/><rect x="186.7" y="142" width="3.3" height="100" fill="url(#g19)"/><rect x="190" y="142" width="2" height="100" fill="url(#g7)"/><rect x="195" y="142" width="2" height="100" fill="url(#g15)"/><rect x="208" y="142" width="1" height="100" fill="url(#g15)"/><rect x="214" y="142" width="1" height="100" fill="url(#g15)"/><rect x="243" y="142" width="7" height="100" fill="url(#g52)"/><rect x="250" y="142" width="7" height="100" fill="url(#g53)"/><rect x="257" y="142" width="6" height="100" fill="url(#g7)"/><rect x="263" y="142" width="2.7" height="100" fill="url(#g54)"/><rect x="265.7" y="142" width="6.8" height="100" fill="url(#g7)"/><rect x="272.5" y="142" width="1.5" height="100" fill="url(#g54)"/><rect x="364" y="142" width="1" height="100" fill="url(#g27)"/><rect x="366" y="142" width="2" height="100" fill="url(#g55)"/><rect x="368.6" y="142" width="1.4" height="100" fill="url(#g56)"/><rect x="370" y="142" width="6" height="100" fill="url(#g0)"/><rect x="376" y="142" width="1" height="100" fill="url(#g15)"/><rect x="377" y="142" width="2.6" height="100" fill="url(#g0)"/><rect x="379.6" y="142" width="5" height="100" fill="url(#g57)"/><rect x="384.6" y="142" width="2.6" height="100" fill="url(#g58)"/><rect x="387.2" y="142" width="4.3" height="100" fill="url(#g0)"/><rect x="391.5" y="142" width="4.5" height="100" fill="url(#g59)"/><rect x="396" y="142" width="6.8" height="100" fill="url(#g60)"/><rect x="402.8" y="142" width="1.2" height="100" fill="url(#g61)"/><rect x="404" y="142" width="4" height="100" fill="url(#g62)"/><rect x="413" y="142" width="7" height="100" fill="url(#g63)"/><rect x="420" y="142" width="9" height="100" fill="url(#g64)"/><rect x="429" y="142" width="12.5" height="100" fill="url(#g65)"/><polygon points="429,142 434.05,142 441.95,242 429,242" fill="url(#g66)"/><polygon points="429,142 433.45,142 438.05,242 429,242" fill="url(#g67)"/><rect x="441.5" y="142" width="58.5" height="100" fill="url(#g68)"/><rect x="443" y="142" width="3.5" height="100" fill="url(#g19)"/><rect x="448" y="142" width="1" height="100" fill="url(#g15)"/><rect x="451" y="142" width="2.5" height="100" fill="url(#g42)"/><rect x="456" y="142" width="1" height="100" fill="url(#g15)"/><rect x="459" y="142" width="3" height="100" fill="url(#g19)"/><rect x="464" y="142" width="1" height="100" fill="url(#g42)"/><rect x="467" y="142" width="3.5" height="100" fill="url(#g19)"/><rect x="472.5" y="142" width="1" height="100" fill="url(#g15)"/><rect x="475" y="142" width="3" height="100" fill="url(#g42)"/><rect x="480" y="142" width="1" height="100" fill="url(#g15)"/><rect x="483" y="142" width="4" height="100" fill="url(#g19)"/><rect x="484.5" y="142" width="1.5" height="100" fill="url(#g12)"/><rect x="489" y="142" width="1" height="100" fill="url(#g42)"/><rect x="491.5" y="142" width="3.5" height="100" fill="url(#g19)"/><rect x="496.5" y="142" width="2" height="100" fill="url(#g42)"/></g>
<g filter="url(#dm)" opacity="0.75"><rect x="82" y="154" width="3" height="73" fill="#000088"/><rect x="101.3" y="154" width="22.3" height="73" fill="#000088"/><rect x="160" y="154" width="2" height="73" fill="#000088"/><rect x="165" y="154" width="10" height="73" fill="#000088"/><rect x="185" y="154" width="1.7" height="73" fill="#000088"/><rect x="190" y="154" width="60" height="73" fill="#000088"/><rect x="257" y="154" width="6" height="73" fill="#000088"/><rect x="265.7" y="154" width="6.8" height="73" fill="#000088"/><rect x="274" y="154" width="90" height="73" fill="#000088"/><rect x="365" y="154" width="1" height="73" fill="#000088"/><rect x="368" y="154" width="0.6" height="73" fill="#000088"/><rect x="370" y="154" width="9.6" height="73" fill="#000088"/><rect x="387.2" y="154" width="4.3" height="73" fill="#000088"/><rect x="408" y="154" width="21" height="73" fill="#000088"/><rect x="441.5" y="154" width="1.5" height="73" fill="#000088"/><rect x="446.5" y="154" width="4.5" height="73" fill="#000088"/><rect x="453.5" y="154" width="5.5" height="73" fill="#000088"/><rect x="462" y="154" width="2" height="73" fill="#000088"/><rect x="465" y="154" width="2" height="73" fill="#000088"/><rect x="470.5" y="154" width="4.5" height="73" fill="#000088"/><rect x="478" y="154" width="5" height="73" fill="#000088"/><rect x="487" y="154" width="2" height="73" fill="#000088"/><rect x="490" y="154" width="1.5" height="73" fill="#000088"/><rect x="495" y="154" width="1.5" height="73" fill="#000088"/><rect x="498.5" y="154" width="1.5" height="73" fill="#000088"/></g>
<g filter="url(#sp)"><rect x="82" y="154" width="3" height="76" fill="url(#spg)"/><rect x="101.3" y="154" width="22.3" height="76" fill="url(#spg)"/><rect x="160" y="154" width="2" height="76" fill="url(#spg)"/><rect x="165" y="154" width="10" height="76" fill="url(#spg)"/><rect x="185" y="154" width="1.7" height="76" fill="url(#spg)"/><rect x="190" y="154" width="60" height="76" fill="url(#spg)"/><rect x="257" y="154" width="6" height="76" fill="url(#spg)"/><rect x="265.7" y="154" width="6.8" height="76" fill="url(#spg)"/><rect x="274" y="154" width="90" height="76" fill="url(#spg)"/><rect x="365" y="154" width="1" height="76" fill="url(#spg)"/><rect x="368" y="154" width="0.6" height="76" fill="url(#spg)"/><rect x="370" y="154" width="9.6" height="76" fill="url(#spg)"/><rect x="387.2" y="154" width="4.3" height="76" fill="url(#spg)"/><rect x="408" y="154" width="21" height="76" fill="url(#spg)"/><rect x="441.5" y="154" width="1.5" height="76" fill="url(#spg)"/><rect x="446.5" y="154" width="4.5" height="76" fill="url(#spg)"/><rect x="453.5" y="154" width="5.5" height="76" fill="url(#spg)"/><rect x="462" y="154" width="2" height="76" fill="url(#spg)"/><rect x="465" y="154" width="2" height="76" fill="url(#spg)"/><rect x="470.5" y="154" width="4.5" height="76" fill="url(#spg)"/><rect x="478" y="154" width="5" height="76" fill="url(#spg)"/><rect x="487" y="154" width="2" height="76" fill="url(#spg)"/><rect x="490" y="154" width="1.5" height="76" fill="url(#spg)"/><rect x="495" y="154" width="1.5" height="76" fill="url(#spg)"/><rect x="498.5" y="154" width="1.5" height="76" fill="url(#spg)"/></g>
<g filter="url(#mt)"><rect x="81" y="154" width="1" height="76" fill="url(#mtg)"/><rect x="87.5" y="154" width="6.5" height="76" fill="url(#mtg)"/><rect x="95" y="154" width="6.3" height="76" fill="url(#mtg)"/><rect x="146" y="154" width="2" height="76" fill="url(#mtg)"/><rect x="149.3" y="154" width="1.5" height="76" fill="url(#mtg)"/><rect x="152" y="154" width="3" height="76" fill="url(#mtg)"/><rect x="156" y="154" width="1" height="76" fill="url(#mtg)"/><rect x="162" y="154" width="3" height="76" fill="url(#mtg)"/><rect x="170" y="154" width="2" height="76" fill="url(#mtg)"/><rect x="186.7" y="154" width="3.3" height="76" fill="url(#mtg)"/><rect x="195" y="154" width="2" height="76" fill="url(#mtg)"/><rect x="208" y="154" width="1" height="76" fill="url(#mtg)"/><rect x="214" y="154" width="1" height="76" fill="url(#mtg)"/><rect x="243" y="154" width="14" height="76" fill="url(#mtg)"/><rect x="263" y="154" width="2.7" height="76" fill="url(#mtg)"/><rect x="272.5" y="154" width="1.5" height="76" fill="url(#mtg)"/><rect x="364" y="154" width="1" height="76" fill="url(#mtg)"/><rect x="368.6" y="154" width="1.4" height="76" fill="url(#mtg)"/><rect x="376" y="154" width="1" height="76" fill="url(#mtg)"/><rect x="391.5" y="154" width="11.3" height="76" fill="url(#mtg)"/><rect x="404" y="154" width="4" height="76" fill="url(#mtg)"/><rect x="437.5" y="154" width="47" height="76" fill="url(#mtg)"/><rect x="486" y="154" width="14" height="76" fill="url(#mtg)"/></g>
<rect x="144" y="165.5" width="25" height="2" fill="#00deff" opacity="0.95"/>
<rect x="252" y="165.5" width="25" height="2" fill="#00deff" opacity="0.95"/></g>
<g clip-path="url(#clip2)"><g filter="url(#bl)"><rect x="79" y="238" width="423" height="100" fill="url(#g69)"/><rect x="81" y="238" width="3.5" height="100" fill="url(#g70)"/><rect x="84.5" y="238" width="9.5" height="100" fill="url(#g71)"/><rect x="94" y="238" width="3.5" height="100" fill="url(#g72)"/><rect x="97.5" y="238" width="2" height="100" fill="url(#g73)"/><rect x="99.5" y="238" width="8" height="100" fill="url(#g74)"/><rect x="107.5" y="238" width="13.5" height="100" fill="url(#g75)"/><rect x="121" y="238" width="2.5" height="100" fill="url(#g76)"/><rect x="123.5" y="238" width="7" height="100" fill="url(#g77)"/><rect x="130.5" y="238" width="29.5" height="100" fill="url(#g78)"/><rect x="160" y="238" width="16" height="100" fill="url(#g79)"/><rect x="176" y="238" width="9.5" height="100" fill="url(#g80)"/><rect x="185.5" y="238" width="114.5" height="100" fill="url(#g69)"/><rect x="300" y="238" width="19" height="100" fill="url(#g81)"/><rect x="318" y="238" width="4" height="100" fill="url(#g82)"/><rect x="322" y="238" width="17" height="100" fill="url(#g83)"/><rect x="339" y="238" width="4" height="100" fill="url(#g82)"/><rect x="342" y="238" width="24" height="100" fill="url(#g84)"/><rect x="366" y="238" width="11.7" height="100" fill="url(#g85)"/><rect x="377.7" y="238" width="9.6" height="100" fill="url(#g86)"/><rect x="387.3" y="238" width="2.7" height="100" fill="url(#g87)"/><rect x="390" y="238" width="18" height="100" fill="url(#g88)"/><rect x="408" y="238" width="4" height="100" fill="url(#g89)"/><rect x="412" y="238" width="12.4" height="100" fill="url(#g90)"/><rect x="424.4" y="238" width="10.3" height="100" fill="url(#g91)"/><rect x="434.7" y="238" width="20.3" height="100" fill="url(#g92)"/><rect x="455" y="238" width="34" height="100" fill="url(#g93)"/><rect x="489" y="238" width="11" height="100" fill="url(#g94)"/></g>
<rect x="124.5" y="238" width="1" height="100" fill="url(#g95)"/><rect x="128.8" y="238" width="1" height="100" fill="url(#g95)"/><rect x="141" y="238" width="1" height="100" fill="url(#g95)"/><rect x="146" y="238" width="1" height="100" fill="url(#g95)"/><rect x="151" y="238" width="1" height="100" fill="url(#g95)"/><rect x="157" y="238" width="1" height="100" fill="url(#g95)"/><rect x="158.7" y="238" width="1" height="100" fill="url(#g95)"/><rect x="107.7" y="238" width="1.3" height="100" fill="url(#g96)"/><rect x="177" y="238" width="2" height="100" fill="url(#g97)"/><rect x="180.3" y="238" width="1" height="100" fill="url(#g95)"/><rect x="183" y="238" width="1.4" height="100" fill="url(#g96)"/><rect x="365.7" y="238" width="1.3" height="100" fill="url(#g96)"/><rect x="94" y="238" width="1" height="100" fill="url(#g98)"/>
<g filter="url(#bl2)"><ellipse cx="470" cy="270.9" rx="22" ry="6.5" fill="#10f020"/><ellipse cx="474" cy="270.9" rx="10" ry="2.5" fill="#00ff90"/></g>
<rect x="436" y="250" width="1.2" height="76" fill="#ffd000" opacity="0.2"/><rect x="439.5" y="250" width="1.2" height="76" fill="#ffd000" opacity="0.2"/><rect x="443" y="250" width="1.2" height="76" fill="#ffd000" opacity="0.2"/><rect x="446.5" y="250" width="1.2" height="76" fill="#ffd000" opacity="0.2"/><rect x="450" y="250" width="1.2" height="76" fill="#ffd000" opacity="0.2"/><rect x="453.5" y="250" width="1.2" height="76" fill="#ffd000" opacity="0.2"/><rect x="457" y="250" width="1.2" height="76" fill="#ffd000" opacity="0.2"/><rect x="460.5" y="250" width="1.2" height="76" fill="#ffd000" opacity="0.2"/><rect x="464" y="250" width="1.2" height="76" fill="#ffd000" opacity="0.2"/><rect x="467.5" y="250" width="1.2" height="76" fill="#ffd000" opacity="0.2"/><rect x="471" y="250" width="1.2" height="76" fill="#ffd000" opacity="0.2"/><rect x="474.5" y="250" width="1.2" height="76" fill="#ffd000" opacity="0.2"/><rect x="478" y="250" width="1.2" height="76" fill="#ffd000" opacity="0.2"/><rect x="481.5" y="250" width="1.2" height="76" fill="#ffd000" opacity="0.2"/><rect x="485" y="250" width="1.2" height="76" fill="#ffd000" opacity="0.2"/><rect x="488.5" y="250" width="1.2" height="76" fill="#ffd000" opacity="0.2"/><rect x="492" y="250" width="1.2" height="76" fill="#ffd000" opacity="0.2"/><rect x="495.5" y="250" width="1.2" height="76" fill="#ffd000" opacity="0.2"/><rect x="186" y="250" width="1" height="76" fill="#00c0ff" opacity="0.09"/><rect x="191" y="250" width="2" height="76" fill="#ffff00" opacity="0.12"/><rect x="198" y="250" width="1" height="76" fill="#ffff00" opacity="0.11"/><rect x="201" y="250" width="2" height="76" fill="#00ff80" opacity="0.11"/><rect x="205" y="250" width="1" height="76" fill="#00c0ff" opacity="0.08"/><rect x="208" y="250" width="2" height="76" fill="#00ff80" opacity="0.13"/><rect x="213" y="250" width="1" height="76" fill="#00c0ff" opacity="0.13"/><rect x="218" y="250" width="1" height="76" fill="#ffff00" opacity="0.14"/><rect x="222" y="250" width="2" height="76" fill="#00ff80" opacity="0.13"/><rect x="228" y="250" width="1" height="76" fill="#00ff80" opacity="0.16"/><rect x="231" y="250" width="1" height="76" fill="#ffff00" opacity="0.05"/><rect x="235" y="250" width="1" height="76" fill="#00ff80" opacity="0.14"/><rect x="242" y="250" width="1" height="76" fill="#00ff80" opacity="0.11"/><rect x="246" y="250" width="1" height="76" fill="#00c0ff" opacity="0.15"/><rect x="252" y="250" width="1" height="76" fill="#ffff00" opacity="0.16"/><rect x="257" y="250" width="1" height="76" fill="#ffff00" opacity="0.16"/><rect x="264" y="250" width="2" height="76" fill="#ffff00" opacity="0.13"/><rect x="267" y="250" width="2" height="76" fill="#ffff00" opacity="0.08"/><rect x="269" y="250" width="2" height="76" fill="#00ff80" opacity="0.06"/><rect x="275" y="250" width="1" height="76" fill="#00c0ff" opacity="0.05"/><rect x="279" y="250" width="1" height="76" fill="#ffff00" opacity="0.05"/><rect x="284" y="250" width="1" height="76" fill="#00ff80" opacity="0.13"/><rect x="288" y="250" width="1" height="76" fill="#00c0ff" opacity="0.16"/><rect x="291" y="250" width="1" height="76" fill="#ffff00" opacity="0.12"/><rect x="294" y="250" width="1" height="76" fill="#00ff80" opacity="0.08"/><rect x="297" y="250" width="2" height="76" fill="#ffff00" opacity="0.16"/><rect x="301" y="250" width="1" height="76" fill="#00c0ff" opacity="0.15"/><rect x="305" y="250" width="1" height="76" fill="#00ff80" opacity="0.12"/><rect x="310" y="250" width="2" height="76" fill="#ffff00" opacity="0.12"/><rect x="316" y="250" width="2" height="76" fill="#ffff00" opacity="0.10"/><rect x="322" y="250" width="1" height="76" fill="#ffff00" opacity="0.10"/><rect x="325" y="250" width="1" height="76" fill="#ffff00" opacity="0.05"/><rect x="329" y="250" width="2" height="76" fill="#ffff00" opacity="0.05"/><rect x="334" y="250" width="2" height="76" fill="#00c0ff" opacity="0.06"/><rect x="339" y="250" width="1" height="76" fill="#ffff00" opacity="0.12"/><rect x="343" y="250" width="2" height="76" fill="#ffff00" opacity="0.13"/><rect x="345" y="250" width="1" height="76" fill="#ffff00" opacity="0.16"/><rect x="349" y="250" width="1" height="76" fill="#ffff00" opacity="0.12"/><rect x="352" y="250" width="1" height="76" fill="#00c0ff" opacity="0.08"/><rect x="356" y="250" width="2" height="76" fill="#ffff00" opacity="0.08"/><rect x="360" y="250" width="1" height="76" fill="#00c0ff" opacity="0.08"/><rect x="363" y="250" width="1" height="76" fill="#00c0ff" opacity="0.09"/><rect x="368" y="250" width="2" height="76" fill="#ffff00" opacity="0.06"/><rect x="372" y="250" width="1" height="76" fill="#00c0ff" opacity="0.10"/>
<g filter="url(#mt)"><rect x="85" y="250" width="9" height="36" fill="url(#mtz)"/><rect x="390" y="250" width="18" height="16" fill="url(#mtz)"/></g></g>
<g clip-path="url(#clip3)"><g clip-path="url(#za3)"><g filter="url(#nz2)"><rect x="79" y="353" width="423" height="100" fill="url(#g99)"/></g></g>
<g clip-path="url(#zb3)"><g filter="url(#nz)"><rect x="79" y="353" width="423" height="100" fill="url(#g99)"/></g></g>
<rect x="81" y="365" width="419" height="76" fill="url(#dmb)" filter="url(#dm)"/>
<rect x="81" y="365" width="419" height="76" fill="url(#spb)" filter="url(#sp2)"/>
<rect x="123.5" y="376.5" width="44.5" height="1.6" fill="#004cff" opacity="0.85"/>
<rect x="253.6" y="376" width="24.1" height="1.6" fill="#004cff" opacity="0.85"/>
<rect x="94" y="353" width="1" height="100" fill="url(#g100)"/><rect x="108" y="353" width="1" height="100" fill="url(#g101)"/><rect x="141" y="353" width="1" height="100" fill="url(#g101)"/><rect x="143" y="353" width="1" height="100" fill="url(#g101)"/><rect x="146" y="353" width="2" height="100" fill="url(#g100)"/><rect x="149" y="353" width="1" height="100" fill="url(#g100)"/><rect x="151" y="353" width="1" height="100" fill="url(#g101)"/><rect x="157" y="353" width="1" height="100" fill="url(#g101)"/><rect x="159" y="353" width="1" height="100" fill="url(#g101)"/><rect x="175" y="353" width="10" height="100" fill="url(#g100)"/><rect x="176" y="353" width="2.7" height="100" fill="url(#g102)"/><rect x="178.7" y="353" width="1" height="100" fill="url(#g103)"/><rect x="179.7" y="353" width="1.1" height="100" fill="url(#g104)"/><rect x="180.8" y="353" width="1.1" height="100" fill="url(#g103)"/><rect x="181.9" y="353" width="2.1" height="100" fill="url(#g102)"/><rect x="366" y="353" width="1" height="100" fill="url(#g105)"/><rect x="391" y="353" width="1" height="100" fill="url(#g106)"/><rect x="415" y="353" width="1" height="100" fill="url(#g107)"/><rect x="434" y="353" width="1" height="100" fill="url(#g101)"/></g>
<g clip-path="url(#clip4)"><g clip-path="url(#za4)"><g filter="url(#nz2)"><rect x="79" y="449" width="423" height="100" fill="url(#g99)"/></g></g>
<g clip-path="url(#zb4)"><g filter="url(#nz)"><rect x="79" y="449" width="423" height="100" fill="url(#g99)"/></g></g>
<rect x="81" y="461" width="419" height="76" fill="url(#dmb)" filter="url(#dm)"/>
<rect x="81" y="461" width="419" height="76" fill="url(#spb)" filter="url(#sp2)"/>
<rect x="123.5" y="472.5" width="44.5" height="1.6" fill="#004cff" opacity="0.85"/>
<rect x="253" y="472.5" width="23.5" height="1.6" fill="#004cff" opacity="0.85"/>
<rect x="123.5" y="478" width="44.5" height="1.2" fill="#0000f0" opacity="0.85"/>
<rect x="94" y="449" width="1" height="100" fill="url(#g100)"/><rect x="108" y="449" width="1" height="100" fill="url(#g105)"/><rect x="141" y="449" width="1" height="100" fill="url(#g101)"/><rect x="143" y="449" width="1" height="100" fill="url(#g101)"/><rect x="146" y="449" width="4" height="100" fill="url(#g103)"/><rect x="151" y="449" width="1" height="100" fill="url(#g105)"/><rect x="157" y="449" width="3" height="100" fill="url(#g103)"/><rect x="175" y="449" width="10" height="100" fill="url(#g100)"/><rect x="176" y="449" width="2.7" height="100" fill="url(#g102)"/><rect x="178.7" y="449" width="1" height="100" fill="url(#g103)"/><rect x="179.7" y="449" width="1.1" height="100" fill="url(#g104)"/><rect x="180.8" y="449" width="1.1" height="100" fill="url(#g103)"/><rect x="181.9" y="449" width="2.1" height="100" fill="url(#g102)"/><rect x="245" y="449" width="1" height="100" fill="url(#g108)"/><rect x="366" y="449" width="1" height="100" fill="url(#g103)"/><rect x="391" y="449" width="1" height="100" fill="url(#g100)"/><rect x="415" y="449" width="1" height="100" fill="url(#g100)"/><rect x="434" y="449" width="1" height="100" fill="url(#g101)"/></g>
<g clip-path="url(#clip5)"><g clip-path="url(#za5)"><g filter="url(#nz2)"><rect x="79" y="545" width="423" height="100" fill="url(#g99)"/></g></g>
<g clip-path="url(#zb5)"><g filter="url(#nz)"><rect x="79" y="545" width="423" height="100" fill="url(#g99)"/></g></g>
<rect x="81" y="557" width="419" height="76" fill="url(#dmb)" filter="url(#dm)"/>
<rect x="81" y="557" width="419" height="76" fill="url(#spb)" filter="url(#sp2)"/>
<rect x="123.5" y="568.5" width="45.5" height="1.4" fill="#0036ff" opacity="0.85"/>
<rect x="123.5" y="573.7" width="45.5" height="1.4" fill="#0009ff" opacity="0.85"/>
<rect x="253" y="568.5" width="23.5" height="1.2" fill="#0036ff" opacity="0.85"/>
<rect x="253" y="571" width="23.5" height="1.2" fill="#0009ff" opacity="0.85"/>
<rect x="94" y="545" width="1" height="100" fill="url(#g107)"/><rect x="108" y="545" width="1" height="100" fill="url(#g100)"/><rect x="143" y="545" width="1" height="100" fill="url(#g100)"/><rect x="148" y="545" width="2" height="100" fill="url(#g107)"/><rect x="151" y="545" width="1" height="100" fill="url(#g107)"/><rect x="153" y="545" width="1" height="100" fill="url(#g107)"/><rect x="157" y="545" width="3" height="100" fill="url(#g104)"/><rect x="175" y="545" width="11" height="100" fill="url(#g109)"/><rect x="179" y="545" width="2" height="100" fill="url(#g104)"/><rect x="366" y="545" width="1" height="100" fill="url(#g105)"/><rect x="391" y="545" width="1" height="100" fill="url(#g106)"/><rect x="404" y="545" width="1" height="100" fill="url(#g107)"/><rect x="434" y="545" width="1" height="100" fill="url(#g103)"/></g>
<rect x="80" y="57" width="1" height="78" fill="#000"/>
<rect x="500" y="57" width="1" height="78" fill="#000"/>
<rect x="80" y="57" width="421" height="1" fill="#000"/>
<rect x="80" y="133" width="421" height="2" fill="#000"/>
<path d="M71 134.5h9M501 134.5h8M75 132.5h5M501 132.5h4M75 130.5h5M501 130.5h4M75 127.5h5M501 127.5h4M75 124.5h5M501 124.5h4M71 122.5h9M501 122.5h8M75 119.5h5M501 119.5h4M75 117.5h5M501 117.5h4M75 114.5h5M501 114.5h4M75 111.5h5M501 111.5h4M71 109.5h9M501 109.5h8M75 106.5h5M501 106.5h4M75 104.5h5M501 104.5h4M75 101.5h5M501 101.5h4M75 98.5h5M501 98.5h4M71 96.5h9M501 96.5h8M75 93.5h5M501 93.5h4M75 91.5h5M501 91.5h4M75 88.5h5M501 88.5h4M75 85.5h5M501 85.5h4M71 83.5h9M501 83.5h8M75 80.5h5M501 80.5h4M75 78.5h5M501 78.5h4M75 75.5h5M501 75.5h4M75 72.5h5M501 72.5h4M71 70.5h9M501 70.5h8M75 67.5h5M501 67.5h4M75 65.5h5M501 65.5h4M75 62.5h5M501 62.5h4M75 59.5h5M501 59.5h4M71 57.5h9M501 57.5h8M80.5 134v3M80.5 56v1M115.5 134v2M150.5 134v2M185.5 134v3M185.5 56v1M220.5 134v2M255.5 134v2M290.5 134v3M290.5 56v1M325.5 134v2M360.5 134v2M395.5 134v3M395.5 56v1M430.5 134v2M465.5 134v2M500.5 134v3M500.5 56v1" stroke="#000" stroke-width="1" fill="none" shape-rendering="crispEdges"/>
<rect x="80" y="153" width="1" height="78" fill="#000"/>
<rect x="500" y="153" width="1" height="78" fill="#000"/>
<rect x="80" y="153" width="421" height="1" fill="#000"/>
<rect x="80" y="229" width="421" height="2" fill="#000"/>
<path d="M71 230.5h9M501 230.5h8M75 228.5h5M501 228.5h4M75 226.5h5M501 226.5h4M75 223.5h5M501 223.5h4M75 220.5h5M501 220.5h4M71 218.5h9M501 218.5h8M75 215.5h5M501 215.5h4M75 213.5h5M501 213.5h4M75 210.5h5M501 210.5h4M75 207.5h5M501 207.5h4M71 205.5h9M501 205.5h8M75 202.5h5M501 202.5h4M75 200.5h5M501 200.5h4M75 197.5h5M501 197.5h4M75 194.5h5M501 194.5h4M71 192.5h9M501 192.5h8M75 189.5h5M501 189.5h4M75 187.5h5M501 187.5h4M75 184.5h5M501 184.5h4M75 181.5h5M501 181.5h4M71 179.5h9M501 179.5h8M75 176.5h5M501 176.5h4M75 174.5h5M501 174.5h4M75 171.5h5M501 171.5h4M75 168.5h5M501 168.5h4M71 166.5h9M501 166.5h8M75 163.5h5M501 163.5h4M75 161.5h5M501 161.5h4M75 158.5h5M501 158.5h4M75 155.5h5M501 155.5h4M71 153.5h9M501 153.5h8M80.5 230v3M80.5 152v1M115.5 230v2M150.5 230v2M185.5 230v3M185.5 152v1M220.5 230v2M255.5 230v2M290.5 230v3M290.5 152v1M325.5 230v2M360.5 230v2M395.5 230v3M395.5 152v1M430.5 230v2M465.5 230v2M500.5 230v3M500.5 152v1" stroke="#000" stroke-width="1" fill="none" shape-rendering="crispEdges"/>
<rect x="80" y="249" width="1" height="78" fill="#000"/>
<rect x="500" y="249" width="1" height="78" fill="#000"/>
<rect x="80" y="249" width="421" height="1" fill="#000"/>
<rect x="80" y="325" width="421" height="2" fill="#000"/>
<path d="M71 326.5h9M501 326.5h8M75 324.5h5M501 324.5h4M75 322.5h5M501 322.5h4M75 319.5h5M501 319.5h4M75 316.5h5M501 316.5h4M71 314.5h9M501 314.5h8M75 311.5h5M501 311.5h4M75 309.5h5M501 309.5h4M75 306.5h5M501 306.5h4M75 303.5h5M501 303.5h4M71 301.5h9M501 301.5h8M75 298.5h5M501 298.5h4M75 296.5h5M501 296.5h4M75 293.5h5M501 293.5h4M75 290.5h5M501 290.5h4M71 288.5h9M501 288.5h8M75 285.5h5M501 285.5h4M75 283.5h5M501 283.5h4M75 280.5h5M501 280.5h4M75 277.5h5M501 277.5h4M71 275.5h9M501 275.5h8M75 272.5h5M501 272.5h4M75 270.5h5M501 270.5h4M75 267.5h5M501 267.5h4M75 264.5h5M501 264.5h4M71 262.5h9M501 262.5h8M75 259.5h5M501 259.5h4M75 257.5h5M501 257.5h4M75 254.5h5M501 254.5h4M75 251.5h5M501 251.5h4M71 249.5h9M501 249.5h8M80.5 326v3M80.5 248v1M115.5 326v2M150.5 326v2M185.5 326v3M185.5 248v1M220.5 326v2M255.5 326v2M290.5 326v3M290.5 248v1M325.5 326v2M360.5 326v2M395.5 326v3M395.5 248v1M430.5 326v2M465.5 326v2M500.5 326v3M500.5 248v1" stroke="#000" stroke-width="1" fill="none" shape-rendering="crispEdges"/>
<rect x="80" y="364" width="1" height="78" fill="#000"/>
<rect x="500" y="364" width="1" height="78" fill="#000"/>
<rect x="80" y="364" width="421" height="1" fill="#000"/>
<rect x="80" y="440" width="421" height="2" fill="#000"/>
<path d="M71 441.5h9M501 441.5h8M75 439.5h5M501 439.5h4M75 437.5h5M501 437.5h4M75 434.5h5M501 434.5h4M75 431.5h5M501 431.5h4M71 429.5h9M501 429.5h8M75 426.5h5M501 426.5h4M75 424.5h5M501 424.5h4M75 421.5h5M501 421.5h4M75 418.5h5M501 418.5h4M71 416.5h9M501 416.5h8M75 413.5h5M501 413.5h4M75 411.5h5M501 411.5h4M75 408.5h5M501 408.5h4M75 405.5h5M501 405.5h4M71 403.5h9M501 403.5h8M75 400.5h5M501 400.5h4M75 398.5h5M501 398.5h4M75 395.5h5M501 395.5h4M75 392.5h5M501 392.5h4M71 390.5h9M501 390.5h8M75 387.5h5M501 387.5h4M75 385.5h5M501 385.5h4M75 382.5h5M501 382.5h4M75 379.5h5M501 379.5h4M71 377.5h9M501 377.5h8M75 374.5h5M501 374.5h4M75 372.5h5M501 372.5h4M75 369.5h5M501 369.5h4M75 366.5h5M501 366.5h4M71 364.5h9M501 364.5h8M80.5 441v3M80.5 363v1M115.5 441v2M150.5 441v2M185.5 441v3M185.5 363v1M220.5 441v2M255.5 441v2M290.5 441v3M290.5 363v1M325.5 441v2M360.5 441v2M395.5 441v3M395.5 363v1M430.5 441v2M465.5 441v2M500.5 441v3M500.5 363v1" stroke="#000" stroke-width="1" fill="none" shape-rendering="crispEdges"/>
<rect x="80" y="460" width="1" height="78" fill="#000"/>
<rect x="500" y="460" width="1" height="78" fill="#000"/>
<rect x="80" y="460" width="421" height="1" fill="#000"/>
<rect x="80" y="536" width="421" height="2" fill="#000"/>
<path d="M71 537.5h9M501 537.5h8M75 535.5h5M501 535.5h4M75 533.5h5M501 533.5h4M75 530.5h5M501 530.5h4M75 527.5h5M501 527.5h4M71 525.5h9M501 525.5h8M75 522.5h5M501 522.5h4M75 520.5h5M501 520.5h4M75 517.5h5M501 517.5h4M75 514.5h5M501 514.5h4M71 512.5h9M501 512.5h8M75 509.5h5M501 509.5h4M75 507.5h5M501 507.5h4M75 504.5h5M501 504.5h4M75 501.5h5M501 501.5h4M71 499.5h9M501 499.5h8M75 496.5h5M501 496.5h4M75 494.5h5M501 494.5h4M75 491.5h5M501 491.5h4M75 488.5h5M501 488.5h4M71 486.5h9M501 486.5h8M75 483.5h5M501 483.5h4M75 481.5h5M501 481.5h4M75 478.5h5M501 478.5h4M75 475.5h5M501 475.5h4M71 473.5h9M501 473.5h8M75 470.5h5M501 470.5h4M75 468.5h5M501 468.5h4M75 465.5h5M501 465.5h4M75 462.5h5M501 462.5h4M71 460.5h9M501 460.5h8M80.5 537v3M80.5 459v1M115.5 537v2M150.5 537v2M185.5 537v3M185.5 459v1M220.5 537v2M255.5 537v2M290.5 537v3M290.5 459v1M325.5 537v2M360.5 537v2M395.5 537v3M395.5 459v1M430.5 537v2M465.5 537v2M500.5 537v3M500.5 459v1" stroke="#000" stroke-width="1" fill="none" shape-rendering="crispEdges"/>
<rect x="80" y="556" width="1" height="78" fill="#000"/>
<rect x="500" y="556" width="1" height="78" fill="#000"/>
<rect x="80" y="556" width="421" height="1" fill="#000"/>
<rect x="80" y="632" width="421" height="2" fill="#000"/>
<path d="M71 633.5h9M501 633.5h8M75 631.5h5M501 631.5h4M75 629.5h5M501 629.5h4M75 626.5h5M501 626.5h4M75 623.5h5M501 623.5h4M71 621.5h9M501 621.5h8M75 618.5h5M501 618.5h4M75 616.5h5M501 616.5h4M75 613.5h5M501 613.5h4M75 610.5h5M501 610.5h4M71 608.5h9M501 608.5h8M75 605.5h5M501 605.5h4M75 603.5h5M501 603.5h4M75 600.5h5M501 600.5h4M75 597.5h5M501 597.5h4M71 595.5h9M501 595.5h8M75 592.5h5M501 592.5h4M75 590.5h5M501 590.5h4M75 587.5h5M501 587.5h4M75 584.5h5M501 584.5h4M71 582.5h9M501 582.5h8M75 579.5h5M501 579.5h4M75 577.5h5M501 577.5h4M75 574.5h5M501 574.5h4M75 571.5h5M501 571.5h4M71 569.5h9M501 569.5h8M75 566.5h5M501 566.5h4M75 564.5h5M501 564.5h4M75 561.5h5M501 561.5h4M75 558.5h5M501 558.5h4M71 556.5h9M501 556.5h8M80.5 633v3M80.5 555v1M115.5 633v2M150.5 633v2M185.5 633v3M185.5 555v1M220.5 633v2M255.5 633v2M290.5 633v3M290.5 555v1M325.5 633v2M360.5 633v2M395.5 633v3M395.5 555v1M430.5 633v2M465.5 633v2M500.5 633v3M500.5 555v1" stroke="#000" stroke-width="1" fill="none" shape-rendering="crispEdges"/>
<rect x="581" y="58" width="19" height="76" fill="url(#g110)"/>
<rect x="580" y="57" width="1" height="78" fill="#000"/>
<rect x="600" y="57" width="1" height="78" fill="#000"/>
<rect x="576" y="134" width="29" height="1" fill="#000"/>
<path d="M576 57.5h4M601 57.5h4M578 67.5h2M601 67.5h2M576 77.5h4M601 77.5h4M578 86.5h2M601 86.5h2M576 96.5h4M601 96.5h4M578 106.5h2M601 106.5h2M576 115.5h4M601 115.5h4M578 124.5h2M601 124.5h2M576 134.5h4M601 134.5h4" stroke="#000" stroke-width="1" fill="none" shape-rendering="crispEdges"/>
<text y="59.4" font-size="12"><tspan x="553" textLength="11.3" lengthAdjust="spacingAndGlyphs">−</tspan><tspan x="565.2">2</tspan></text>
<text x="551.2" y="66.4" font-size="12.5" text-anchor="end" textLength="14.4" lengthAdjust="spacingAndGlyphs">10</text>
<text y="75.4" font-size="12"><tspan x="553" textLength="11.3" lengthAdjust="spacingAndGlyphs">−</tspan><tspan x="565.2">4</tspan></text>
<text x="551.2" y="82.4" font-size="12.5" text-anchor="end" textLength="14.4" lengthAdjust="spacingAndGlyphs">10</text>
<text y="94" font-size="12"><tspan x="553" textLength="11.3" lengthAdjust="spacingAndGlyphs">−</tspan><tspan x="565.2">6</tspan></text>
<text x="551.2" y="101" font-size="12.5" text-anchor="end" textLength="14.4" lengthAdjust="spacingAndGlyphs">10</text>
<text y="113" font-size="12"><tspan x="553" textLength="11.3" lengthAdjust="spacingAndGlyphs">−</tspan><tspan x="565.2">8</tspan></text>
<text x="551.2" y="120" font-size="12.5" text-anchor="end" textLength="14.4" lengthAdjust="spacingAndGlyphs">10</text>
<text y="128" font-size="12"><tspan x="546" textLength="11.3" lengthAdjust="spacingAndGlyphs">−</tspan><tspan x="558.2" textLength="12.8" lengthAdjust="spacingAndGlyphs">10</tspan></text>
<text x="544.2" y="135" font-size="12.5" text-anchor="end" textLength="14.4" lengthAdjust="spacingAndGlyphs">10</text>
<rect x="581" y="154" width="19" height="76" fill="url(#g110)"/>
<rect x="580" y="153" width="1" height="78" fill="#000"/>
<rect x="600" y="153" width="1" height="78" fill="#000"/>
<rect x="576" y="230" width="29" height="1" fill="#000"/>
<path d="M576 153.5h4M601 153.5h4M578 163.5h2M601 163.5h2M576 173.5h4M601 173.5h4M578 182.5h2M601 182.5h2M576 192.5h4M601 192.5h4M578 202.5h2M601 202.5h2M576 211.5h4M601 211.5h4M578 220.5h2M601 220.5h2M576 230.5h4M601 230.5h4" stroke="#000" stroke-width="1" fill="none" shape-rendering="crispEdges"/>
<text y="155.4" font-size="12"><tspan x="553" textLength="11.3" lengthAdjust="spacingAndGlyphs">−</tspan><tspan x="565.2">2</tspan></text>
<text x="551.2" y="162.4" font-size="12.5" text-anchor="end" textLength="14.4" lengthAdjust="spacingAndGlyphs">10</text>
<text y="171.4" font-size="12"><tspan x="553" textLength="11.3" lengthAdjust="spacingAndGlyphs">−</tspan><tspan x="565.2">4</tspan></text>
<text x="551.2" y="178.4" font-size="12.5" text-anchor="end" textLength="14.4" lengthAdjust="spacingAndGlyphs">10</text>
<text y="190" font-size="12"><tspan x="553" textLength="11.3" lengthAdjust="spacingAndGlyphs">−</tspan><tspan x="565.2">6</tspan></text>
<text x="551.2" y="197" font-size="12.5" text-anchor="end" textLength="14.4" lengthAdjust="spacingAndGlyphs">10</text>
<text y="209" font-size="12"><tspan x="553" textLength="11.3" lengthAdjust="spacingAndGlyphs">−</tspan><tspan x="565.2">8</tspan></text>
<text x="551.2" y="216" font-size="12.5" text-anchor="end" textLength="14.4" lengthAdjust="spacingAndGlyphs">10</text>
<text y="224" font-size="12"><tspan x="546" textLength="11.3" lengthAdjust="spacingAndGlyphs">−</tspan><tspan x="558.2" textLength="12.8" lengthAdjust="spacingAndGlyphs">10</tspan></text>
<text x="544.2" y="231" font-size="12.5" text-anchor="end" textLength="14.4" lengthAdjust="spacingAndGlyphs">10</text>
<rect x="581" y="250" width="19" height="76" fill="url(#g110)"/>
<rect x="580" y="249" width="1" height="78" fill="#000"/>
<rect x="600" y="249" width="1" height="78" fill="#000"/>
<rect x="576" y="326" width="29" height="1" fill="#000"/>
<path d="M576 249.5h4M601 249.5h4M578 259.5h2M601 259.5h2M576 269.5h4M601 269.5h4M578 278.5h2M601 278.5h2M576 288.5h4M601 288.5h4M578 298.5h2M601 298.5h2M576 307.5h4M601 307.5h4M578 316.5h2M601 316.5h2M576 326.5h4M601 326.5h4" stroke="#000" stroke-width="1" fill="none" shape-rendering="crispEdges"/>
<text y="251.4" font-size="12"><tspan x="553" textLength="11.3" lengthAdjust="spacingAndGlyphs">−</tspan><tspan x="565.2">2</tspan></text>
<text x="551.2" y="258.4" font-size="12.5" text-anchor="end" textLength="14.4" lengthAdjust="spacingAndGlyphs">10</text>
<text y="267.4" font-size="12"><tspan x="553" textLength="11.3" lengthAdjust="spacingAndGlyphs">−</tspan><tspan x="565.2">4</tspan></text>
<text x="551.2" y="274.4" font-size="12.5" text-anchor="end" textLength="14.4" lengthAdjust="spacingAndGlyphs">10</text>
<text y="286" font-size="12"><tspan x="553" textLength="11.3" lengthAdjust="spacingAndGlyphs">−</tspan><tspan x="565.2">6</tspan></text>
<text x="551.2" y="293" font-size="12.5" text-anchor="end" textLength="14.4" lengthAdjust="spacingAndGlyphs">10</text>
<text y="305" font-size="12"><tspan x="553" textLength="11.3" lengthAdjust="spacingAndGlyphs">−</tspan><tspan x="565.2">8</tspan></text>
<text x="551.2" y="312" font-size="12.5" text-anchor="end" textLength="14.4" lengthAdjust="spacingAndGlyphs">10</text>
<text y="320" font-size="12"><tspan x="546" textLength="11.3" lengthAdjust="spacingAndGlyphs">−</tspan><tspan x="558.2" textLength="12.8" lengthAdjust="spacingAndGlyphs">10</tspan></text>
<text x="544.2" y="327" font-size="12.5" text-anchor="end" textLength="14.4" lengthAdjust="spacingAndGlyphs">10</text>
<rect x="581" y="365" width="19" height="76" fill="url(#g110)"/>
<rect x="580" y="364" width="1" height="78" fill="#000"/>
<rect x="600" y="364" width="1" height="78" fill="#000"/>
<rect x="576" y="441" width="29" height="1" fill="#000"/>
<path d="M576 364.5h4M601 364.5h4M578 374.5h2M601 374.5h2M576 384.5h4M601 384.5h4M578 394.5h2M601 394.5h2M576 403.5h4M601 403.5h4M578 412.5h2M601 412.5h2M576 422.5h4M601 422.5h4M578 432.5h2M601 432.5h2M576 441.5h4M601 441.5h4" stroke="#000" stroke-width="1" fill="none" shape-rendering="crispEdges"/>
<text x="564.5" y="366.4" font-size="12">2</text>
<text x="562.7" y="373.4" font-size="12.5" text-anchor="end" textLength="14.4" lengthAdjust="spacingAndGlyphs">10</text>
<text x="564.5" y="382.4" font-size="12">0</text>
<text x="562.7" y="389.4" font-size="12.5" text-anchor="end" textLength="14.4" lengthAdjust="spacingAndGlyphs">10</text>
<text y="401" font-size="12"><tspan x="553" textLength="11.3" lengthAdjust="spacingAndGlyphs">−</tspan><tspan x="565.2">2</tspan></text>
<text x="551.2" y="408" font-size="12.5" text-anchor="end" textLength="14.4" lengthAdjust="spacingAndGlyphs">10</text>
<text y="420" font-size="12"><tspan x="553" textLength="11.3" lengthAdjust="spacingAndGlyphs">−</tspan><tspan x="565.2">4</tspan></text>
<text x="551.2" y="427" font-size="12.5" text-anchor="end" textLength="14.4" lengthAdjust="spacingAndGlyphs">10</text>
<text y="435" font-size="12"><tspan x="553" textLength="11.3" lengthAdjust="spacingAndGlyphs">−</tspan><tspan x="565.2">6</tspan></text>
<text x="551.2" y="442" font-size="12.5" text-anchor="end" textLength="14.4" lengthAdjust="spacingAndGlyphs">10</text>
<rect x="581" y="461" width="19" height="76" fill="url(#g110)"/>
<rect x="580" y="460" width="1" height="78" fill="#000"/>
<rect x="600" y="460" width="1" height="78" fill="#000"/>
<rect x="576" y="537" width="29" height="1" fill="#000"/>
<path d="M576 460.5h4M601 460.5h4M578 470.5h2M601 470.5h2M576 480.5h4M601 480.5h4M578 490.5h2M601 490.5h2M576 499.5h4M601 499.5h4M578 508.5h2M601 508.5h2M576 518.5h4M601 518.5h4M578 528.5h2M601 528.5h2M576 537.5h4M601 537.5h4" stroke="#000" stroke-width="1" fill="none" shape-rendering="crispEdges"/>
<text x="564.5" y="462.4" font-size="12">2</text>
<text x="562.7" y="469.4" font-size="12.5" text-anchor="end" textLength="14.4" lengthAdjust="spacingAndGlyphs">10</text>
<text x="564.5" y="478.4" font-size="12">0</text>
<text x="562.7" y="485.4" font-size="12.5" text-anchor="end" textLength="14.4" lengthAdjust="spacingAndGlyphs">10</text>
<text y="497" font-size="12"><tspan x="553" textLength="11.3" lengthAdjust="spacingAndGlyphs">−</tspan><tspan x="565.2">2</tspan></text>
<text x="551.2" y="504" font-size="12.5" text-anchor="end" textLength="14.4" lengthAdjust="spacingAndGlyphs">10</text>
<text y="516" font-size="12"><tspan x="553" textLength="11.3" lengthAdjust="spacingAndGlyphs">−</tspan><tspan x="565.2">4</tspan></text>
<text x="551.2" y="523" font-size="12.5" text-anchor="end" textLength="14.4" lengthAdjust="spacingAndGlyphs">10</text>
<text y="531" font-size="12"><tspan x="553" textLength="11.3" lengthAdjust="spacingAndGlyphs">−</tspan><tspan x="565.2">6</tspan></text>
<text x="551.2" y="538" font-size="12.5" text-anchor="end" textLength="14.4" lengthAdjust="spacingAndGlyphs">10</text>
<rect x="581" y="557" width="19" height="76" fill="url(#g110)"/>
<rect x="580" y="556" width="1" height="78" fill="#000"/>
<rect x="600" y="556" width="1" height="78" fill="#000"/>
<rect x="576" y="633" width="29" height="1" fill="#000"/>
<path d="M576 556.5h4M601 556.5h4M578 566.5h2M601 566.5h2M576 576.5h4M601 576.5h4M578 586.5h2M601 586.5h2M576 595.5h4M601 595.5h4M578 604.5h2M601 604.5h2M576 614.5h4M601 614.5h4M578 624.5h2M601 624.5h2M576 633.5h4M601 633.5h4" stroke="#000" stroke-width="1" fill="none" shape-rendering="crispEdges"/>
<text x="564.5" y="558.4" font-size="12">2</text>
<text x="562.7" y="565.4" font-size="12.5" text-anchor="end" textLength="14.4" lengthAdjust="spacingAndGlyphs">10</text>
<text x="564.5" y="574.4" font-size="12">0</text>
<text x="562.7" y="581.4" font-size="12.5" text-anchor="end" textLength="14.4" lengthAdjust="spacingAndGlyphs">10</text>
<text y="593" font-size="12"><tspan x="553" textLength="11.3" lengthAdjust="spacingAndGlyphs">−</tspan><tspan x="565.2">2</tspan></text>
<text x="551.2" y="600" font-size="12.5" text-anchor="end" textLength="14.4" lengthAdjust="spacingAndGlyphs">10</text>
<text y="612" font-size="12"><tspan x="553" textLength="11.3" lengthAdjust="spacingAndGlyphs">−</tspan><tspan x="565.2">4</tspan></text>
<text x="551.2" y="619" font-size="12.5" text-anchor="end" textLength="14.4" lengthAdjust="spacingAndGlyphs">10</text>
<text y="627" font-size="12"><tspan x="553" textLength="11.3" lengthAdjust="spacingAndGlyphs">−</tspan><tspan x="565.2">6</tspan></text>
<text x="551.2" y="634" font-size="12.5" text-anchor="end" textLength="14.4" lengthAdjust="spacingAndGlyphs">10</text>
<text y="33.2" font-size="15.5"><tspan x="122" textLength="41" lengthAdjust="spacingAndGlyphs">Polar</tspan> <tspan x="172.4" textLength="26.1" lengthAdjust="spacingAndGlyphs">PWI</tspan> <tspan x="208" textLength="40" lengthAdjust="spacingAndGlyphs">LFWR</tspan> <tspan x="258.5" textLength="71" lengthAdjust="spacingAndGlyphs">Channels</tspan> <tspan x="341">1</tspan> <tspan x="356" textLength="15" lengthAdjust="spacingAndGlyphs">−</tspan> <tspan x="381.5">6</tspan> <tspan x="400.5" textLength="57.3" lengthAdjust="spacingAndGlyphs">Despun</tspan></text>
<text transform="translate(38.6 96.8) rotate(-90)" font-size="12.5" text-anchor="middle" textLength="84" lengthAdjust="spacingAndGlyphs">Ex' freq (Hz)</text>
<text x="66.2" y="134.6" font-size="12.5" text-anchor="end">0</text>
<text x="66.2" y="127.7" font-size="12.5" text-anchor="end">5</text>
<text x="66.2" y="114.7" font-size="12.5" text-anchor="end" textLength="14.8" lengthAdjust="spacingAndGlyphs">10</text>
<text x="66.2" y="101.7" font-size="12.5" text-anchor="end" textLength="14.8" lengthAdjust="spacingAndGlyphs">15</text>
<text x="66.2" y="88.7" font-size="12.5" text-anchor="end" textLength="14.8" lengthAdjust="spacingAndGlyphs">20</text>
<text x="66.2" y="75.7" font-size="12.5" text-anchor="end" textLength="14.8" lengthAdjust="spacingAndGlyphs">25</text>
<text x="66.2" y="66.1" font-size="12.5" text-anchor="end" textLength="14.8" lengthAdjust="spacingAndGlyphs">30</text>
<text transform="translate(38.6 192.8) rotate(-90)" font-size="12.5" text-anchor="middle" textLength="84" lengthAdjust="spacingAndGlyphs">Ey' freq (Hz)</text>
<text x="66.2" y="230.6" font-size="12.5" text-anchor="end">0</text>
<text x="66.2" y="223.7" font-size="12.5" text-anchor="end">5</text>
<text x="66.2" y="210.7" font-size="12.5" text-anchor="end" textLength="14.8" lengthAdjust="spacingAndGlyphs">10</text>
<text x="66.2" y="197.7" font-size="12.5" text-anchor="end" textLength="14.8" lengthAdjust="spacingAndGlyphs">15</text>
<text x="66.2" y="184.7" font-size="12.5" text-anchor="end" textLength="14.8" lengthAdjust="spacingAndGlyphs">20</text>
<text x="66.2" y="171.7" font-size="12.5" text-anchor="end" textLength="14.8" lengthAdjust="spacingAndGlyphs">25</text>
<text x="66.2" y="162.1" font-size="12.5" text-anchor="end" textLength="14.8" lengthAdjust="spacingAndGlyphs">30</text>
<text transform="translate(38.6 288.8) rotate(-90)" font-size="12.5" text-anchor="middle" textLength="80" lengthAdjust="spacingAndGlyphs">Ez freq (Hz)</text>
<text x="66.2" y="326.6" font-size="12.5" text-anchor="end">0</text>
<text x="66.2" y="319.7" font-size="12.5" text-anchor="end">5</text>
<text x="66.2" y="306.7" font-size="12.5" text-anchor="end" textLength="14.8" lengthAdjust="spacingAndGlyphs">10</text>
<text x="66.2" y="293.7" font-size="12.5" text-anchor="end" textLength="14.8" lengthAdjust="spacingAndGlyphs">15</text>
<text x="66.2" y="280.7" font-size="12.5" text-anchor="end" textLength="14.8" lengthAdjust="spacingAndGlyphs">20</text>
<text x="66.2" y="267.7" font-size="12.5" text-anchor="end" textLength="14.8" lengthAdjust="spacingAndGlyphs">25</text>
<text x="66.2" y="258.1" font-size="12.5" text-anchor="end" textLength="14.8" lengthAdjust="spacingAndGlyphs">30</text>
<text transform="translate(38.6 403.8) rotate(-90)" font-size="12.5" text-anchor="middle" textLength="85.5" lengthAdjust="spacingAndGlyphs">Bx' freq (Hz)</text>
<text x="66.2" y="441.6" font-size="12.5" text-anchor="end">0</text>
<text x="66.2" y="434.7" font-size="12.5" text-anchor="end">5</text>
<text x="66.2" y="421.7" font-size="12.5" text-anchor="end" textLength="14.8" lengthAdjust="spacingAndGlyphs">10</text>
<text x="66.2" y="408.7" font-size="12.5" text-anchor="end" textLength="14.8" lengthAdjust="spacingAndGlyphs">15</text>
<text x="66.2" y="395.7" font-size="12.5" text-anchor="end" textLength="14.8" lengthAdjust="spacingAndGlyphs">20</text>
<text x="66.2" y="382.7" font-size="12.5" text-anchor="end" textLength="14.8" lengthAdjust="spacingAndGlyphs">25</text>
<text x="66.2" y="373.1" font-size="12.5" text-anchor="end" textLength="14.8" lengthAdjust="spacingAndGlyphs">30</text>
<text transform="translate(38.6 499.8) rotate(-90)" font-size="12.5" text-anchor="middle" textLength="85.5" lengthAdjust="spacingAndGlyphs">By' freq (Hz)</text>
<text x="66.2" y="537.6" font-size="12.5" text-anchor="end">0</text>
<text x="66.2" y="530.7" font-size="12.5" text-anchor="end">5</text>
<text x="66.2" y="517.7" font-size="12.5" text-anchor="end" textLength="14.8" lengthAdjust="spacingAndGlyphs">10</text>
<text x="66.2" y="504.7" font-size="12.5" text-anchor="end" textLength="14.8" lengthAdjust="spacingAndGlyphs">15</text>
<text x="66.2" y="491.7" font-size="12.5" text-anchor="end" textLength="14.8" lengthAdjust="spacingAndGlyphs">20</text>
<text x="66.2" y="478.7" font-size="12.5" text-anchor="end" textLength="14.8" lengthAdjust="spacingAndGlyphs">25</text>
<text x="66.2" y="469.1" font-size="12.5" text-anchor="end" textLength="14.8" lengthAdjust="spacingAndGlyphs">30</text>
<text transform="translate(38.6 595.8) rotate(-90)" font-size="12.5" text-anchor="middle" textLength="81.7" lengthAdjust="spacingAndGlyphs">Bz freq (Hz)</text>
<text x="66.2" y="633.6" font-size="12.5" text-anchor="end">0</text>
<text x="66.2" y="626.7" font-size="12.5" text-anchor="end">5</text>
<text x="66.2" y="613.7" font-size="12.5" text-anchor="end" textLength="14.8" lengthAdjust="spacingAndGlyphs">10</text>
<text x="66.2" y="600.7" font-size="12.5" text-anchor="end" textLength="14.8" lengthAdjust="spacingAndGlyphs">15</text>
<text x="66.2" y="587.7" font-size="12.5" text-anchor="end" textLength="14.8" lengthAdjust="spacingAndGlyphs">20</text>
<text x="66.2" y="574.7" font-size="12.5" text-anchor="end" textLength="14.8" lengthAdjust="spacingAndGlyphs">25</text>
<text x="66.2" y="565.1" font-size="12.5" text-anchor="end" textLength="14.8" lengthAdjust="spacingAndGlyphs">30</text>
<text x="562.5" y="36.9" font-size="9.5" textLength="54.7" lengthAdjust="spacingAndGlyphs">(V/m)²/Hz</text>
<text x="572.8" y="343.8" font-size="8.8" textLength="33.5" lengthAdjust="spacingAndGlyphs">nT²/Hz</text>
<text x="15.5" y="654" font-size="13" textLength="31.5" lengthAdjust="spacingAndGlyphs">SCET</text>
<text x="33.4" y="671" font-size="13">R<tspan dx="-0.4" dy="4.5" font-size="9.5">E</tspan></text>
<text x="32.5" y="690" font-size="13">λ<tspan dx="0.5" dy="2.5" font-size="10">m</tspan></text>
<text x="24" y="707.5" font-size="13" textLength="23" lengthAdjust="spacingAndGlyphs">MLT</text>
<text x="41" y="726" font-size="13">L</text>
<text x="49" y="654" font-size="13" textLength="61" lengthAdjust="spacingAndGlyphs">00:00 28</text>
<text x="154.5" y="654" font-size="13" textLength="60.5" lengthAdjust="spacingAndGlyphs">06:00 28</text>
<text x="260.5" y="654" font-size="13" textLength="60" lengthAdjust="spacingAndGlyphs">12:00 28</text>
<text x="365.5" y="654" font-size="13" textLength="59.5" lengthAdjust="spacingAndGlyphs">18:00 28</text>
<text x="470.2" y="654" font-size="13" textLength="59.4" lengthAdjust="spacingAndGlyphs">00:00 29</text>
<text x="72.5" y="671" font-size="13" textLength="28" lengthAdjust="spacingAndGlyphs">1.85</text>
<text x="177" y="671" font-size="13" textLength="28.5" lengthAdjust="spacingAndGlyphs">8.30</text>
<text x="282" y="671" font-size="13" textLength="28" lengthAdjust="spacingAndGlyphs">8.01</text>
<text x="387" y="671" font-size="13" textLength="28.5" lengthAdjust="spacingAndGlyphs">2.26</text>
<text x="491.6" y="671" font-size="13" textLength="29.1" lengthAdjust="spacingAndGlyphs">8.49</text>
<text y="690" font-size="13"><tspan x="55.5" textLength="10" lengthAdjust="spacingAndGlyphs">−</tspan><tspan x="67.2" textLength="35.8" lengthAdjust="spacingAndGlyphs">77.92</tspan></text>
<text x="170" y="690" font-size="13" textLength="36" lengthAdjust="spacingAndGlyphs">75.82</text>
<text x="275" y="690" font-size="13" textLength="36" lengthAdjust="spacingAndGlyphs">43.83</text>
<text y="690" font-size="13"><tspan x="370.8" textLength="10" lengthAdjust="spacingAndGlyphs">−</tspan><tspan x="382.5" textLength="35" lengthAdjust="spacingAndGlyphs">17.37</tspan></text>
<text x="485" y="690" font-size="13" textLength="36.3" lengthAdjust="spacingAndGlyphs">81.46</text>
<text x="71.8" y="707.5" font-size="13" textLength="28.2" lengthAdjust="spacingAndGlyphs">5.97</text>
<text x="170.5" y="707.5" font-size="13" textLength="35.5" lengthAdjust="spacingAndGlyphs">12.96</text>
<text x="275.8" y="707.5" font-size="13" textLength="35" lengthAdjust="spacingAndGlyphs">18.57</text>
<text x="387" y="707.5" font-size="13" textLength="28.5" lengthAdjust="spacingAndGlyphs">7.59</text>
<text x="491.6" y="707.5" font-size="13" textLength="28.8" lengthAdjust="spacingAndGlyphs">9.12</text>
<text x="65" y="726" font-size="13" textLength="36" lengthAdjust="spacingAndGlyphs">42.43</text>
<text x="162.5" y="726" font-size="13" textLength="44.5" lengthAdjust="spacingAndGlyphs">137.80</text>
<text x="275.8" y="726" font-size="13" textLength="35.2" lengthAdjust="spacingAndGlyphs">15.28</text>
<text x="387" y="726" font-size="13" textLength="29" lengthAdjust="spacingAndGlyphs">2.44</text>
<text x="476.7" y="726" font-size="13" textLength="44" lengthAdjust="spacingAndGlyphs">384.01</text>
<text x="147" y="744" font-size="13" textLength="286" lengthAdjust="spacingAndGlyphs">1996/06/28 00:00 to 1996/06/29 00:00</text>
<text x="571" y="765" font-size="7.5" textLength="65.5" lengthAdjust="spacingAndGlyphs" font-weight="bold">UIowa 19980223</text>
</svg>
</body></html>
